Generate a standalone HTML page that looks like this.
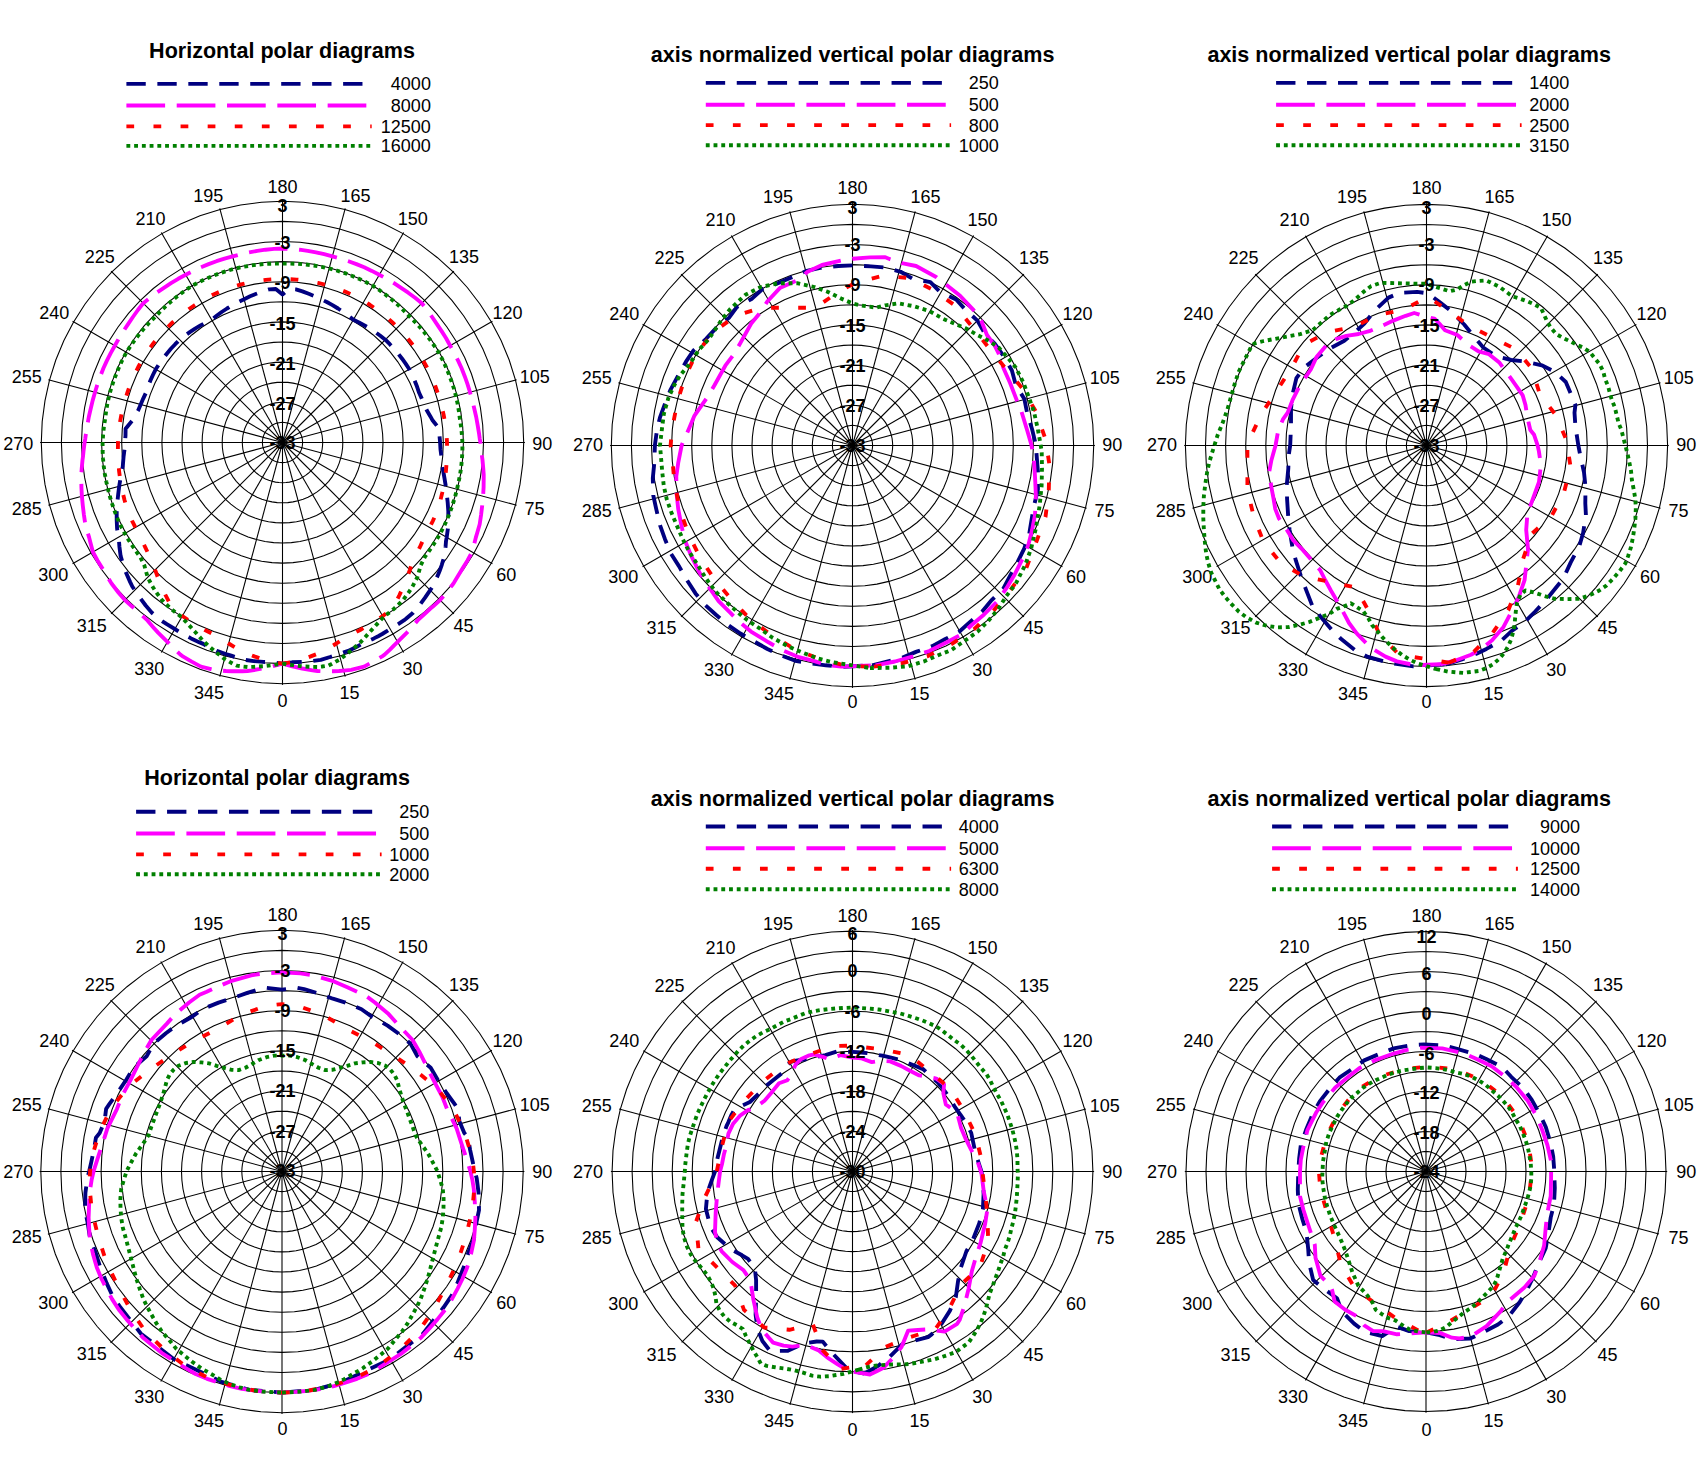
<!DOCTYPE html>
<html><head><meta charset="utf-8"><title>Polar diagrams</title>
<style>
html,body{margin:0;padding:0;background:#fff}
svg{display:block}
text{font-family:"Liberation Sans",Arial,sans-serif;fill:#000}
.al text,.lt{font-size:18.00px}
.rl text{font-size:18.00px;font-weight:bold}
.tt{font-size:21.55px;font-weight:bold}
</style></head><body>
<svg width="1703" height="1460" viewBox="0 0 1703 1460">
<rect width="1703" height="1460" fill="#fff"/>
<g fill="none" stroke="#000" stroke-width="1.08"><polygon points="282.5,683.7 303.5,682.8 324.4,680.0 344.9,675.5 365.0,669.2 384.4,661.1 403.1,651.4 420.8,640.1 437.5,627.3 453.1,613.1 467.3,597.5 480.1,580.8 491.4,563.1 501.1,544.4 509.2,525.0 515.5,504.9 520.0,484.4 522.8,463.5 523.7,442.5 522.8,421.5 520.0,400.6 515.5,380.1 509.2,360.0 501.1,340.6 491.4,321.9 480.1,304.2 467.3,287.5 453.1,271.9 437.5,257.7 420.8,244.9 403.1,233.6 384.4,223.9 365.0,215.8 344.9,209.5 324.4,205.0 303.5,202.2 282.5,201.3 261.5,202.2 240.6,205.0 220.1,209.5 200.0,215.8 180.6,223.9 161.9,233.6 144.2,244.9 127.5,257.7 111.9,271.9 97.7,287.5 84.9,304.2 73.6,321.9 63.9,340.6 55.8,360.0 49.5,380.1 45.0,400.6 42.2,421.5 41.3,442.5 42.2,463.5 45.0,484.4 49.5,504.9 55.8,525.0 63.9,544.4 73.6,563.1 84.9,580.8 97.7,597.5 111.9,613.1 127.5,627.3 144.2,640.1 161.9,651.4 180.6,661.1 200.0,669.2 220.1,675.5 240.6,680.0 261.5,682.8"/><polygon points="282.5,663.6 301.8,662.8 320.9,660.2 339.7,656.1 358.1,650.3 375.9,642.9 393.0,634.0 409.3,623.6 424.6,611.9 438.8,598.8 451.9,584.6 463.6,569.3 474.0,553.1 482.9,535.9 490.3,518.1 496.1,499.7 500.2,480.9 502.8,461.8 503.6,442.5 502.8,423.2 500.2,404.1 496.1,385.3 490.3,366.9 482.9,349.1 474.0,332.0 463.6,315.7 451.9,300.4 438.8,286.2 424.6,273.1 409.3,261.4 393.0,251.0 375.9,242.1 358.1,234.7 339.7,228.9 320.9,224.8 301.8,222.2 282.5,221.4 263.2,222.2 244.1,224.8 225.3,228.9 206.9,234.7 189.1,242.1 171.9,251.0 155.7,261.4 140.4,273.1 126.2,286.2 113.1,300.4 101.4,315.7 91.0,331.9 82.1,349.1 74.7,366.9 68.9,385.3 64.8,404.1 62.2,423.2 61.4,442.5 62.2,461.8 64.8,480.9 68.9,499.7 74.7,518.1 82.1,535.9 91.0,553.1 101.4,569.3 113.1,584.6 126.2,598.8 140.4,611.9 155.7,623.6 171.9,634.0 189.1,642.9 206.9,650.3 225.3,656.1 244.1,660.2 263.2,662.8"/><polygon points="282.5,643.5 300.0,642.7 317.4,640.4 334.5,636.7 351.2,631.4 367.4,624.7 383.0,616.6 397.8,607.1 411.7,596.5 424.6,584.6 436.5,571.7 447.1,557.8 456.6,543.0 464.7,527.4 471.4,511.2 476.7,494.5 480.4,477.4 482.7,460.0 483.5,442.5 482.7,425.0 480.4,407.6 476.7,390.5 471.4,373.8 464.7,357.6 456.6,342.0 447.1,327.2 436.5,313.3 424.6,300.4 411.7,288.5 397.8,277.9 383.0,268.4 367.4,260.3 351.2,253.6 334.5,248.3 317.4,244.6 300.0,242.3 282.5,241.5 265.0,242.3 247.6,244.6 230.5,248.3 213.8,253.6 197.6,260.3 182.0,268.4 167.2,277.9 153.3,288.5 140.4,300.4 128.5,313.3 117.9,327.2 108.4,342.0 100.3,357.6 93.6,373.8 88.3,390.5 84.6,407.6 82.3,425.0 81.5,442.5 82.3,460.0 84.6,477.4 88.3,494.5 93.6,511.2 100.3,527.4 108.4,543.0 117.9,557.8 128.5,571.7 140.4,584.6 153.3,596.5 167.2,607.1 182.0,616.6 197.6,624.7 213.8,631.4 230.5,636.7 247.6,640.4 265.0,642.7"/><polygon points="282.5,623.4 298.3,622.7 313.9,620.7 329.3,617.2 344.4,612.5 359.0,606.5 372.9,599.2 386.3,590.7 398.8,581.1 410.4,570.4 421.1,558.8 430.7,546.3 439.2,533.0 446.5,519.0 452.5,504.4 457.2,489.3 460.7,473.9 462.7,458.3 463.4,442.5 462.7,426.7 460.7,411.1 457.2,395.7 452.5,380.6 446.5,366.0 439.2,352.1 430.7,338.7 421.1,326.2 410.4,314.6 398.8,303.9 386.3,294.3 372.9,285.8 359.0,278.5 344.4,272.5 329.3,267.8 313.9,264.3 298.3,262.3 282.5,261.6 266.7,262.3 251.1,264.3 235.7,267.8 220.6,272.5 206.0,278.5 192.1,285.8 178.7,294.3 166.2,303.9 154.6,314.6 143.9,326.2 134.3,338.7 125.8,352.0 118.5,366.0 112.5,380.6 107.8,395.7 104.3,411.1 102.3,426.7 101.6,442.5 102.3,458.3 104.3,473.9 107.8,489.3 112.5,504.4 118.5,519.0 125.8,533.0 134.3,546.3 143.9,558.8 154.6,570.4 166.2,581.1 178.7,590.7 192.0,599.2 206.0,606.5 220.6,612.5 235.7,617.2 251.1,620.7 266.7,622.7"/><polygon points="282.5,603.3 296.5,602.7 310.4,600.9 324.1,597.8 337.5,593.6 350.5,588.2 362.9,581.8 374.7,574.2 385.9,565.7 396.2,556.2 405.7,545.9 414.2,534.7 421.8,522.9 428.2,510.5 433.6,497.5 437.8,484.1 440.9,470.4 442.7,456.5 443.3,442.5 442.7,428.5 440.9,414.6 437.8,400.9 433.6,387.5 428.2,374.5 421.8,362.1 414.2,350.3 405.7,339.1 396.2,328.8 385.9,319.3 374.7,310.8 362.9,303.2 350.5,296.8 337.5,291.4 324.1,287.2 310.4,284.1 296.5,282.3 282.5,281.7 268.5,282.3 254.6,284.1 240.9,287.2 227.5,291.4 214.5,296.8 202.1,303.2 190.3,310.8 179.1,319.3 168.8,328.8 159.3,339.1 150.8,350.3 143.2,362.1 136.8,374.5 131.4,387.5 127.2,400.9 124.1,414.6 122.3,428.5 121.7,442.5 122.3,456.5 124.1,470.4 127.2,484.1 131.4,497.5 136.8,510.5 143.2,522.9 150.8,534.7 159.3,545.9 168.8,556.2 179.1,565.7 190.3,574.2 202.1,581.8 214.5,588.2 227.5,593.6 240.9,597.8 254.6,600.9 268.5,602.7"/><polygon points="282.5,583.2 294.8,582.7 306.9,581.1 318.9,578.4 330.6,574.7 342.0,570.0 352.8,564.3 363.2,557.8 372.9,550.3 382.0,542.0 390.3,532.9 397.8,523.2 404.3,512.9 410.0,502.0 414.7,490.6 418.4,478.9 421.1,466.9 422.7,454.8 423.2,442.5 422.7,430.2 421.1,418.1 418.4,406.1 414.7,394.4 410.0,383.0 404.3,372.2 397.8,361.8 390.3,352.1 382.0,343.0 372.9,334.7 363.2,327.2 352.8,320.7 342.0,315.0 330.6,310.3 318.9,306.6 306.9,303.9 294.8,302.3 282.5,301.8 270.2,302.3 258.1,303.9 246.1,306.6 234.4,310.3 223.0,315.0 212.1,320.7 201.8,327.2 192.1,334.7 183.0,343.0 174.7,352.1 167.2,361.8 160.7,372.1 155.0,383.0 150.3,394.4 146.6,406.1 143.9,418.1 142.3,430.2 141.8,442.5 142.3,454.8 143.9,466.9 146.6,478.9 150.3,490.6 155.0,502.0 160.7,512.9 167.2,523.2 174.7,532.9 183.0,542.0 192.1,550.3 201.8,557.8 212.1,564.3 223.0,570.0 234.4,574.7 246.1,578.4 258.1,581.1 270.2,582.7"/><polygon points="282.5,563.1 293.0,562.6 303.4,561.3 313.7,559.0 323.7,555.8 333.5,551.8 342.8,546.9 351.7,541.3 360.0,534.9 367.8,527.8 374.9,520.0 381.3,511.7 386.9,502.8 391.8,493.5 395.8,483.7 399.0,473.7 401.3,463.4 402.6,453.0 403.1,442.5 402.6,432.0 401.3,421.6 399.0,411.3 395.8,401.3 391.8,391.5 386.9,382.2 381.3,373.3 374.9,365.0 367.8,357.2 360.0,350.1 351.7,343.7 342.8,338.1 333.5,333.2 323.7,329.2 313.7,326.0 303.4,323.7 293.0,322.4 282.5,321.9 272.0,322.4 261.6,323.7 251.3,326.0 241.3,329.2 231.5,333.2 222.2,338.1 213.3,343.7 205.0,350.1 197.2,357.2 190.1,365.0 183.7,373.3 178.1,382.2 173.2,391.5 169.2,401.3 166.0,411.3 163.7,421.6 162.4,432.0 161.9,442.5 162.4,453.0 163.7,463.4 166.0,473.7 169.2,483.7 173.2,493.5 178.1,502.8 183.7,511.7 190.1,520.0 197.2,527.8 205.0,534.9 213.3,541.3 222.2,546.9 231.5,551.8 241.3,555.8 251.3,559.0 261.6,561.3 272.0,562.6"/><polygon points="282.5,543.0 291.3,542.6 300.0,541.5 308.5,539.6 316.9,536.9 325.0,533.6 332.8,529.5 340.1,524.8 347.1,519.5 353.6,513.6 359.5,507.1 364.8,500.1 369.5,492.8 373.6,485.0 376.9,476.9 379.6,468.5 381.5,460.0 382.6,451.3 383.0,442.5 382.6,433.7 381.5,425.0 379.6,416.5 376.9,408.1 373.6,400.0 369.5,392.2 364.8,384.9 359.5,377.9 353.6,371.4 347.1,365.5 340.1,360.2 332.8,355.5 325.0,351.4 316.9,348.1 308.5,345.4 300.0,343.5 291.3,342.4 282.5,342.0 273.7,342.4 265.0,343.5 256.5,345.4 248.1,348.1 240.0,351.4 232.2,355.5 224.9,360.2 217.9,365.5 211.4,371.4 205.5,377.9 200.2,384.9 195.5,392.2 191.4,400.0 188.1,408.1 185.4,416.5 183.5,425.0 182.4,433.7 182.0,442.5 182.4,451.3 183.5,460.0 185.4,468.5 188.1,476.9 191.4,485.0 195.5,492.8 200.2,500.1 205.5,507.1 211.4,513.6 217.9,519.5 224.9,524.8 232.2,529.5 240.0,533.6 248.1,536.9 256.5,539.6 265.0,541.5 273.7,542.6"/><polygon points="282.5,522.9 289.5,522.6 296.5,521.7 303.3,520.2 310.0,518.1 316.5,515.4 322.7,512.1 328.6,508.4 334.2,504.1 339.4,499.4 344.1,494.2 348.4,488.6 352.1,482.7 355.4,476.5 358.1,470.0 360.2,463.3 361.7,456.5 362.6,449.5 362.9,442.5 362.6,435.5 361.7,428.5 360.2,421.7 358.1,415.0 355.4,408.5 352.1,402.3 348.4,396.4 344.1,390.8 339.4,385.6 334.2,380.9 328.6,376.6 322.7,372.9 316.5,369.6 310.0,366.9 303.3,364.8 296.5,363.3 289.5,362.4 282.5,362.1 275.5,362.4 268.5,363.3 261.7,364.8 255.0,366.9 248.5,369.6 242.3,372.9 236.4,376.6 230.8,380.9 225.6,385.6 220.9,390.8 216.6,396.4 212.9,402.3 209.6,408.5 206.9,415.0 204.8,421.7 203.3,428.5 202.4,435.5 202.1,442.5 202.4,449.5 203.3,456.5 204.8,463.3 206.9,470.0 209.6,476.5 212.9,482.7 216.6,488.6 220.9,494.2 225.6,499.4 230.8,504.1 236.4,508.4 242.3,512.1 248.5,515.4 255.0,518.1 261.7,520.2 268.5,521.7 275.5,522.6"/><polygon points="282.5,502.8 287.8,502.6 293.0,501.9 298.1,500.7 303.1,499.2 308.0,497.2 312.6,494.7 317.1,491.9 321.3,488.7 325.1,485.1 328.7,481.3 331.9,477.1 334.7,472.6 337.2,468.0 339.2,463.1 340.7,458.1 341.9,453.0 342.6,447.8 342.8,442.5 342.6,437.2 341.9,432.0 340.7,426.9 339.2,421.9 337.2,417.0 334.7,412.4 331.9,407.9 328.7,403.7 325.1,399.9 321.3,396.3 317.1,393.1 312.6,390.3 308.0,387.8 303.1,385.8 298.1,384.3 293.0,383.1 287.8,382.4 282.5,382.2 277.2,382.4 272.0,383.1 266.9,384.3 261.9,385.8 257.0,387.8 252.3,390.3 247.9,393.1 243.7,396.3 239.9,399.9 236.3,403.7 233.1,407.9 230.3,412.3 227.8,417.0 225.8,421.9 224.3,426.9 223.1,432.0 222.4,437.2 222.2,442.5 222.4,447.8 223.1,453.0 224.3,458.1 225.8,463.1 227.8,468.0 230.3,472.6 233.1,477.1 236.3,481.3 239.9,485.1 243.7,488.7 247.9,491.9 252.3,494.7 257.0,497.2 261.9,499.2 266.9,500.7 272.0,501.9 277.2,502.6"/><polygon points="282.5,482.7 286.0,482.5 289.5,482.1 292.9,481.3 296.2,480.3 299.5,478.9 302.6,477.3 305.6,475.4 308.3,473.3 310.9,470.9 313.3,468.3 315.4,465.6 317.3,462.6 318.9,459.5 320.3,456.2 321.3,452.9 322.1,449.5 322.5,446.0 322.7,442.5 322.5,439.0 322.1,435.5 321.3,432.1 320.3,428.8 318.9,425.5 317.3,422.4 315.4,419.4 313.3,416.7 310.9,414.1 308.3,411.7 305.6,409.6 302.6,407.7 299.5,406.1 296.2,404.7 292.9,403.7 289.5,402.9 286.0,402.5 282.5,402.3 279.0,402.5 275.5,402.9 272.1,403.7 268.8,404.7 265.5,406.1 262.4,407.7 259.4,409.6 256.7,411.7 254.1,414.1 251.7,416.7 249.6,419.4 247.7,422.4 246.1,425.5 244.7,428.8 243.7,432.1 242.9,435.5 242.5,439.0 242.3,442.5 242.5,446.0 242.9,449.5 243.7,452.9 244.7,456.2 246.1,459.5 247.7,462.6 249.6,465.6 251.7,468.3 254.1,470.9 256.7,473.3 259.4,475.4 262.4,477.3 265.5,478.9 268.8,480.3 272.1,481.3 275.5,482.1 279.0,482.5"/><polygon points="282.5,462.6 284.3,462.5 286.0,462.3 287.7,461.9 289.4,461.4 291.0,460.7 292.6,459.9 294.0,459.0 295.4,457.9 296.7,456.7 297.9,455.4 299.0,454.0 299.9,452.6 300.7,451.0 301.4,449.4 301.9,447.7 302.3,446.0 302.5,444.3 302.6,442.5 302.5,440.7 302.3,439.0 301.9,437.3 301.4,435.6 300.7,434.0 299.9,432.4 299.0,431.0 297.9,429.6 296.7,428.3 295.4,427.1 294.0,426.0 292.6,425.1 291.0,424.3 289.4,423.6 287.7,423.1 286.0,422.7 284.3,422.5 282.5,422.4 280.7,422.5 279.0,422.7 277.3,423.1 275.6,423.6 274.0,424.3 272.4,425.1 271.0,426.0 269.6,427.1 268.3,428.3 267.1,429.6 266.0,431.0 265.1,432.4 264.3,434.0 263.6,435.6 263.1,437.3 262.7,439.0 262.5,440.7 262.4,442.5 262.5,444.3 262.7,446.0 263.1,447.7 263.6,449.4 264.3,451.0 265.1,452.6 266.0,454.0 267.1,455.4 268.3,456.7 269.6,457.9 271.0,459.0 272.4,459.9 274.0,460.7 275.6,461.4 277.3,461.9 279.0,462.3 280.7,462.5"/><line x1="282.50" y1="442.50" x2="282.50" y2="684.90"/><line x1="282.50" y1="442.50" x2="345.24" y2="676.64"/><line x1="282.50" y1="442.50" x2="403.70" y2="652.42"/><line x1="282.50" y1="442.50" x2="453.90" y2="613.90"/><line x1="282.50" y1="442.50" x2="492.42" y2="563.70"/><line x1="282.50" y1="442.50" x2="516.64" y2="505.24"/><line x1="282.50" y1="442.50" x2="524.90" y2="442.50"/><line x1="282.50" y1="442.50" x2="516.64" y2="379.76"/><line x1="282.50" y1="442.50" x2="492.42" y2="321.30"/><line x1="282.50" y1="442.50" x2="453.90" y2="271.10"/><line x1="282.50" y1="442.50" x2="403.70" y2="232.58"/><line x1="282.50" y1="442.50" x2="345.24" y2="208.36"/><line x1="282.50" y1="442.50" x2="282.50" y2="200.10"/><line x1="282.50" y1="442.50" x2="219.76" y2="208.36"/><line x1="282.50" y1="442.50" x2="161.30" y2="232.58"/><line x1="282.50" y1="442.50" x2="111.10" y2="271.10"/><line x1="282.50" y1="442.50" x2="72.58" y2="321.30"/><line x1="282.50" y1="442.50" x2="48.36" y2="379.76"/><line x1="282.50" y1="442.50" x2="40.10" y2="442.50"/><line x1="282.50" y1="442.50" x2="48.36" y2="505.24"/><line x1="282.50" y1="442.50" x2="72.58" y2="563.70"/><line x1="282.50" y1="442.50" x2="111.10" y2="613.90"/><line x1="282.50" y1="442.50" x2="161.30" y2="652.42"/><line x1="282.50" y1="442.50" x2="219.76" y2="676.64"/></g>
<g class="al"><text x="282.5" y="193.2" text-anchor="middle">180</text><text x="282.5" y="707.2" text-anchor="middle">0</text><text x="340.5" y="201.5" text-anchor="start">165</text><text x="397.7" y="224.9" text-anchor="start">150</text><text x="449.1" y="262.9" text-anchor="start">135</text><text x="492.6" y="318.5" text-anchor="start">120</text><text x="519.8" y="382.8" text-anchor="start">105</text><text x="532.3" y="449.6" text-anchor="start">90</text><text x="524.6" y="515.4" text-anchor="start">75</text><text x="496.2" y="581.3" text-anchor="start">60</text><text x="453.6" y="632.4" text-anchor="start">45</text><text x="402.4" y="674.6" text-anchor="start">30</text><text x="339.6" y="698.6" text-anchor="start">15</text><text x="223.2" y="201.5" text-anchor="end">195</text><text x="165.6" y="224.9" text-anchor="end">210</text><text x="114.7" y="262.9" text-anchor="end">225</text><text x="69.3" y="318.5" text-anchor="end">240</text><text x="41.9" y="382.8" text-anchor="end">255</text><text x="33.2" y="449.6" text-anchor="end">270</text><text x="41.9" y="515.4" text-anchor="end">285</text><text x="68.3" y="581.3" text-anchor="end">300</text><text x="106.7" y="632.4" text-anchor="end">315</text><text x="164.2" y="674.6" text-anchor="end">330</text><text x="224.1" y="698.6" text-anchor="end">345</text></g>
<polyline points="282.5,663.6 292.1,662.3 301.7,661.9 311.3,661.1 320.8,659.8 330.0,657.0 333.7,655.7 339.2,654.0 348.2,650.9 356.8,646.7 361.8,643.9 365.3,642.4 373.9,638.4 378.2,636.2 382.2,634.0 390.2,629.0 398.2,624.2 404.2,620.2 406.0,618.8 413.1,612.7 419.3,605.5 424.9,597.9 430.2,590.2 432.7,586.5 434.8,582.1 438.6,573.5 439.6,571.1 441.8,564.8 444.4,555.9 445.6,546.4 446.0,541.1 446.7,537.3 447.9,528.6 448.3,519.8 448.3,511.2 447.7,502.6 446.8,494.3 445.8,486.3 444.5,478.4 443.2,470.8 442.2,466.4 442.0,463.5 441.4,456.4 440.5,449.4 440.1,442.5 439.5,435.6 439.4,428.8 434.3,422.5 432.7,420.6 430.4,416.4 426.9,410.5 424.3,404.5 421.8,398.6 419.1,392.8 417.1,386.8 414.7,380.8 412.1,375.0 409.3,369.3 405.8,363.9 402.1,358.7 398.2,353.7 394.1,348.8 389.8,344.2 385.3,339.7 380.3,335.8 375.2,332.1 369.9,328.6 364.5,325.4 359.0,322.5 353.4,319.8 348.4,315.8 343.3,312.0 338.0,308.5 332.5,305.1 326.8,302.0 320.9,299.2 314.9,296.3 308.7,293.8 302.4,291.4 295.9,289.4 289.2,289.0 282.5,294.4 275.8,289.0 269.1,289.4 262.6,291.4 256.3,293.8 250.1,296.3 244.1,299.2 238.2,302.0 232.5,305.1 227.0,308.5 221.7,312.0 216.6,315.8 211.6,319.8 206.0,322.5 200.5,325.4 195.1,328.6 189.8,332.1 184.7,335.8 179.7,339.7 175.2,344.2 170.9,348.8 166.8,353.7 162.9,358.7 159.2,363.9 155.7,369.3 152.9,375.0 150.3,380.8 147.9,386.8 145.9,392.8 143.2,398.6 140.7,404.5 138.1,410.5 134.6,416.4 132.3,420.6 130.7,422.5 125.6,428.8 125.5,435.6 124.9,442.5 124.5,449.4 123.6,456.4 123.0,463.5 122.8,466.4 121.8,470.8 120.5,478.4 119.2,486.3 118.2,494.3 117.3,502.6 116.7,511.2 116.7,519.8 117.1,528.6 118.3,537.3 119.0,541.1 119.4,546.4 120.6,555.9 123.2,564.8 125.4,571.1 126.4,573.5 130.2,582.1 132.3,586.5 134.8,590.2 140.1,597.9 145.7,605.5 151.9,612.7 159.0,618.8 160.8,620.2 166.8,624.2 174.8,629.0 182.8,634.0 186.8,636.2 191.1,638.4 199.7,642.4 203.2,643.9 208.2,646.7 216.8,650.9 225.8,654.0 231.3,655.7 235.0,657.0 244.2,659.8 253.7,661.1 263.3,661.9 272.9,662.3 282.5,663.6" fill="none" stroke="#000080" stroke-width="3.87" stroke-dasharray="19.35 11.61" stroke-linejoin="round"/>
<polyline points="282.5,663.6 292.3,666.3 302.3,668.5 312.5,670.3 317.5,671.0 322.8,671.2 333.2,671.2 339.0,671.0 343.6,670.6 351.1,669.9 354.0,669.2 364.1,666.6 373.3,661.6 382.2,656.3 384.6,654.7 390.2,649.4 394.6,644.8 397.6,641.9 404.9,634.6 406.9,632.6 411.8,627.2 418.4,619.6 425.6,613.0 429.9,609.1 432.9,606.6 440.1,600.1 446.4,592.7 452.3,585.0 453.9,582.8 457.5,576.8 462.5,568.5 467.5,560.4 472.1,552.0 474.6,542.5 475.8,537.6 477.1,533.3 479.7,524.2 481.1,514.8 482.2,505.5 483.1,496.3 483.6,487.1 483.7,478.0 483.7,474.4 483.3,468.9 482.5,460.0 482.0,456.5 481.5,451.2 480.4,442.5 479.8,439.1 479.1,433.9 477.7,425.4 476.2,417.0 474.3,408.7 472.3,400.4 470.0,392.3 469.0,389.0 467.5,384.2 464.7,376.2 461.6,368.3 458.1,360.6 454.3,353.1 450.2,345.7 446.1,338.3 441.6,331.1 436.9,324.1 432.1,317.0 427.1,310.0 421.8,303.2 415.1,297.8 408.2,292.7 401.1,287.9 394.0,283.2 386.8,278.8 379.3,274.8 371.8,270.9 364.2,267.3 356.4,264.1 348.5,261.2 340.5,258.6 332.4,256.4 324.2,254.2 316.0,252.4 307.7,250.9 299.4,249.7 291.0,248.9 282.5,248.5 274.0,248.9 265.6,249.7 257.3,250.9 249.0,252.4 240.8,254.2 232.6,256.4 224.5,258.6 216.5,261.2 208.6,264.1 200.8,267.3 193.2,270.9 185.7,274.8 178.2,278.8 171.0,283.2 163.9,287.9 156.8,292.7 149.9,297.8 143.2,303.2 137.9,310.0 132.9,317.0 128.1,324.1 123.4,331.1 118.9,338.3 114.8,345.7 110.7,353.1 106.9,360.6 103.4,368.3 100.3,376.2 97.5,384.2 96.0,389.0 95.0,392.3 92.7,400.4 90.7,408.7 88.8,417.0 87.3,425.4 85.9,433.9 85.2,439.1 84.6,442.5 83.5,451.2 83.0,456.5 82.5,460.0 81.7,468.9 81.3,474.4 81.3,478.0 81.4,487.1 81.9,496.3 82.8,505.5 83.9,514.8 85.3,524.2 87.9,533.3 89.2,537.6 90.4,542.5 92.9,552.0 97.5,560.4 102.5,568.5 107.5,576.8 111.1,582.8 112.7,585.0 118.6,592.7 124.9,600.1 132.1,606.6 135.1,609.1 139.4,613.0 146.6,619.6 153.2,627.2 158.1,632.6 160.1,634.6 167.4,641.9 170.4,644.8 174.8,649.4 180.4,654.7 182.8,656.3 191.7,661.6 200.9,666.6 211.0,669.2 213.9,669.9 221.4,670.6 226.0,671.0 231.8,671.2 242.2,671.2 247.5,671.0 252.5,670.3 262.7,668.5 272.7,666.3 282.5,663.6" fill="none" stroke="#ff00ff" stroke-width="3.87" stroke-dasharray="38.70 11.61" stroke-linejoin="round"/>
<polyline points="282.5,663.6 292.1,662.0 296.6,661.1 301.5,659.6 310.7,656.4 319.6,652.9 323.1,651.3 328.2,648.5 336.4,643.5 344.2,638.3 352.2,634.1 360.1,630.0 367.8,625.5 369.6,624.4 375.4,620.9 382.7,616.0 389.7,610.8 392.2,608.9 395.2,603.5 399.5,595.0 403.3,586.5 406.8,578.2 409.9,569.9 412.5,561.6 416.2,554.6 419.6,547.7 422.8,540.7 424.7,535.9 426.0,533.9 429.6,527.4 432.9,520.8 435.9,514.0 436.7,512.1 438.4,507.1 440.5,500.0 442.2,492.9 443.6,485.7 444.9,478.5 445.9,471.3 446.5,464.1 446.8,459.8 446.9,456.9 447.1,449.7 447.0,442.5 446.6,435.3 446.3,431.9 445.9,428.2 444.8,421.1 443.5,414.1 441.8,407.2 440.0,400.3 437.9,393.5 435.6,386.8 432.9,380.2 430.1,373.7 426.9,367.3 423.5,361.1 419.8,355.0 415.9,349.1 411.7,343.4 407.2,337.8 402.5,332.5 397.6,327.4 392.5,322.4 387.2,317.7 381.7,313.2 376.0,309.0 370.1,305.0 364.1,301.2 357.9,297.7 351.5,294.5 345.0,291.6 338.4,289.0 331.6,286.6 324.8,284.6 317.9,282.9 310.9,281.5 303.8,280.4 296.7,279.6 289.6,279.2 282.5,279.0 275.4,279.2 268.3,279.6 261.2,280.4 254.1,281.5 247.1,282.9 240.2,284.6 233.4,286.6 226.6,289.0 220.0,291.6 213.5,294.5 207.1,297.7 200.9,301.2 194.9,305.0 189.0,309.0 183.3,313.2 177.8,317.7 172.5,322.4 167.4,327.4 162.5,332.5 157.8,337.8 153.3,343.4 149.1,349.1 145.2,355.0 141.5,361.1 138.1,367.3 134.9,373.7 132.1,380.2 129.4,386.8 127.1,393.5 125.0,400.3 123.2,407.2 121.5,414.1 120.2,421.1 119.1,428.2 118.7,431.9 118.4,435.3 118.0,442.5 117.9,449.7 118.1,456.9 118.2,459.8 118.5,464.1 119.1,471.3 120.1,478.5 121.4,485.7 122.8,492.9 124.5,500.0 126.6,507.1 128.3,512.1 129.1,514.0 132.1,520.8 135.4,527.4 139.0,533.9 140.3,535.9 142.2,540.7 145.4,547.7 148.8,554.6 152.5,561.6 155.1,569.9 158.2,578.2 161.7,586.5 165.5,595.0 169.8,603.5 172.8,608.9 175.3,610.8 182.3,616.0 189.6,620.9 195.4,624.4 197.2,625.5 204.9,630.0 212.8,634.1 220.8,638.3 228.6,643.5 236.8,648.5 241.9,651.3 245.4,652.9 254.3,656.4 263.5,659.6 268.4,661.1 272.9,662.0 282.5,663.6" fill="none" stroke="#ff0000" stroke-width="3.87" stroke-dasharray="7.74 19.35" stroke-linejoin="round"/>
<polyline points="282.5,663.6 292.2,665.2 302.1,666.3 312.0,666.9 317.2,667.0 322.0,666.5 328.3,665.6 331.6,664.0 340.5,659.0 348.7,652.5 356.5,645.8 361.0,641.7 363.8,638.7 370.5,631.2 377.0,624.1 383.3,617.2 390.3,611.8 393.1,609.6 397.0,606.0 403.2,599.8 408.5,592.7 412.0,587.3 413.2,585.2 417.3,577.3 419.9,568.4 420.6,565.5 423.1,560.5 425.0,556.7 427.3,553.6 431.8,547.0 436.1,540.4 440.2,533.5 443.9,526.5 447.2,519.3 450.1,511.9 452.7,504.4 455.0,496.9 457.0,489.3 458.7,481.6 460.2,473.8 461.3,466.0 462.0,458.2 462.4,450.4 462.4,442.5 461.9,434.7 461.1,426.9 459.9,419.1 458.9,411.4 457.6,403.7 455.9,396.0 453.9,388.5 451.4,381.0 448.7,373.7 445.6,366.4 442.3,359.3 438.6,352.4 434.3,345.8 429.8,339.4 425.0,333.2 419.9,327.2 414.6,321.5 409.0,316.0 403.6,310.4 397.9,304.9 392.0,299.8 385.9,294.9 379.5,290.2 372.9,285.8 366.0,282.1 358.9,278.7 351.6,275.7 344.2,272.9 336.7,270.5 329.1,268.4 321.5,266.8 313.7,265.5 305.9,264.5 298.1,263.8 290.3,263.6 282.5,263.6 274.7,263.6 266.9,263.8 259.1,264.5 251.3,265.5 243.5,266.8 235.9,268.4 228.3,270.5 220.8,272.9 213.4,275.7 206.1,278.7 199.0,282.1 192.1,285.8 185.5,290.2 179.1,294.9 173.0,299.8 167.1,304.9 161.4,310.4 156.0,316.0 150.4,321.5 145.1,327.2 140.0,333.2 135.2,339.4 130.7,345.8 126.4,352.4 122.7,359.3 119.4,366.4 116.3,373.7 113.6,381.0 111.1,388.5 109.1,396.0 107.4,403.7 106.1,411.4 105.1,419.1 103.9,426.9 103.1,434.7 102.6,442.5 102.6,450.4 103.0,458.2 103.7,466.0 104.8,473.8 106.3,481.6 108.0,489.3 110.0,496.9 112.3,504.4 114.9,511.9 117.8,519.3 121.1,526.5 124.8,533.5 128.9,540.4 133.2,547.0 137.7,553.6 140.0,556.7 141.9,560.5 144.4,565.5 145.1,568.4 147.7,577.3 151.8,585.2 153.0,587.3 156.5,592.7 161.8,599.8 168.0,606.0 171.9,609.6 174.7,611.8 181.7,617.2 188.0,624.1 194.5,631.2 201.2,638.7 204.0,641.7 208.5,645.8 216.3,652.5 224.5,659.0 233.4,664.0 236.7,665.6 243.0,666.5 247.8,667.0 253.0,666.9 262.9,666.3 272.8,665.2 282.5,663.6" fill="none" stroke="#008000" stroke-width="3.87" stroke-dasharray="3.87 3.87" stroke-linejoin="round"/>
<g class="rl"><text x="282.5" y="211.7" text-anchor="middle">3</text><text x="282.5" y="248.9" text-anchor="middle">-3</text><text x="282.5" y="289.2" text-anchor="middle">-9</text><text x="282.5" y="329.5" text-anchor="middle">-15</text><text x="282.5" y="369.7" text-anchor="middle">-21</text><text x="282.5" y="410.0" text-anchor="middle">-27</text><text x="282.5" y="448.9" text-anchor="middle">-33</text></g>
<text class="tt" x="282.0" y="57.9" text-anchor="middle">Horizontal polar diagrams</text>
<line x1="126.4" y1="83.9" x2="371.7" y2="83.9" stroke="#000080" stroke-width="3.87" stroke-dasharray="19.35 11.61"/><text class="lt" x="430.9" y="90.3" text-anchor="end">4000</text><line x1="126.4" y1="105.5" x2="371.7" y2="105.5" stroke="#ff00ff" stroke-width="3.87" stroke-dasharray="38.70 11.61"/><text class="lt" x="430.9" y="111.9" text-anchor="end">8000</text><line x1="126.4" y1="126.4" x2="371.7" y2="126.4" stroke="#ff0000" stroke-width="3.87" stroke-dasharray="7.74 19.35"/><text class="lt" x="430.9" y="132.8" text-anchor="end">12500</text><line x1="126.4" y1="145.9" x2="371.7" y2="145.9" stroke="#008000" stroke-width="3.87" stroke-dasharray="3.87 3.87"/><text class="lt" x="430.9" y="152.3" text-anchor="end">16000</text>
<g fill="none" stroke="#000" stroke-width="1.08"><polygon points="852.5,686.7 873.5,685.8 894.4,683.0 914.9,678.5 935.0,672.2 954.4,664.1 973.1,654.4 990.8,643.1 1007.5,630.3 1023.1,616.1 1037.3,600.5 1050.1,583.8 1061.4,566.1 1071.1,547.4 1079.2,528.0 1085.5,507.9 1090.0,487.4 1092.8,466.5 1093.7,445.5 1092.8,424.5 1090.0,403.6 1085.5,383.1 1079.2,363.0 1071.1,343.6 1061.4,324.9 1050.1,307.2 1037.3,290.5 1023.1,274.9 1007.5,260.7 990.8,247.9 973.1,236.6 954.4,226.9 935.0,218.8 914.9,212.5 894.4,208.0 873.5,205.2 852.5,204.3 831.5,205.2 810.6,208.0 790.1,212.5 770.0,218.8 750.6,226.9 731.9,236.6 714.2,247.9 697.5,260.7 681.9,274.9 667.7,290.5 654.9,307.2 643.6,324.9 633.9,343.6 625.8,363.0 619.5,383.1 615.0,403.6 612.2,424.5 611.3,445.5 612.2,466.5 615.0,487.4 619.5,507.9 625.8,528.0 633.9,547.4 643.6,566.1 654.9,583.8 667.7,600.5 681.9,616.1 697.5,630.3 714.2,643.1 731.9,654.4 750.6,664.1 770.0,672.2 790.1,678.5 810.6,683.0 831.5,685.8"/><polygon points="852.5,666.6 871.8,665.8 890.9,663.2 909.7,659.1 928.1,653.3 945.9,645.9 963.0,637.0 979.3,626.6 994.6,614.9 1008.8,601.8 1021.9,587.6 1033.6,572.3 1044.0,556.1 1052.9,538.9 1060.3,521.1 1066.1,502.7 1070.2,483.9 1072.8,464.8 1073.6,445.5 1072.8,426.2 1070.2,407.1 1066.1,388.3 1060.3,369.9 1052.9,352.1 1044.0,335.0 1033.6,318.7 1021.9,303.4 1008.8,289.2 994.6,276.1 979.3,264.4 963.0,254.0 945.9,245.1 928.1,237.7 909.7,231.9 890.9,227.8 871.8,225.2 852.5,224.4 833.2,225.2 814.1,227.8 795.3,231.9 776.9,237.7 759.1,245.1 741.9,254.0 725.7,264.4 710.4,276.1 696.2,289.2 683.1,303.4 671.4,318.7 661.0,334.9 652.1,352.1 644.7,369.9 638.9,388.3 634.8,407.1 632.2,426.2 631.4,445.5 632.2,464.8 634.8,483.9 638.9,502.7 644.7,521.1 652.1,538.9 661.0,556.1 671.4,572.3 683.1,587.6 696.2,601.8 710.4,614.9 725.7,626.6 741.9,637.0 759.1,645.9 776.9,653.3 795.3,659.1 814.1,663.2 833.2,665.8"/><polygon points="852.5,646.5 870.0,645.7 887.4,643.4 904.5,639.7 921.2,634.4 937.4,627.7 953.0,619.6 967.8,610.1 981.7,599.5 994.6,587.6 1006.5,574.7 1017.1,560.8 1026.6,546.0 1034.7,530.4 1041.4,514.2 1046.7,497.5 1050.4,480.4 1052.7,463.0 1053.5,445.5 1052.7,428.0 1050.4,410.6 1046.7,393.5 1041.4,376.8 1034.7,360.6 1026.6,345.0 1017.1,330.2 1006.5,316.3 994.6,303.4 981.7,291.5 967.8,280.9 953.0,271.4 937.4,263.3 921.2,256.6 904.5,251.3 887.4,247.6 870.0,245.3 852.5,244.5 835.0,245.3 817.6,247.6 800.5,251.3 783.8,256.6 767.6,263.3 752.0,271.4 737.2,280.9 723.3,291.5 710.4,303.4 698.5,316.3 687.9,330.2 678.4,345.0 670.3,360.6 663.6,376.8 658.3,393.5 654.6,410.6 652.3,428.0 651.5,445.5 652.3,463.0 654.6,480.4 658.3,497.5 663.6,514.2 670.3,530.4 678.4,546.0 687.9,560.8 698.5,574.7 710.4,587.6 723.3,599.5 737.2,610.1 752.0,619.6 767.6,627.7 783.8,634.4 800.5,639.7 817.6,643.4 835.0,645.7"/><polygon points="852.5,626.4 868.3,625.7 883.9,623.7 899.3,620.2 914.4,615.5 929.0,609.5 942.9,602.2 956.3,593.7 968.8,584.1 980.4,573.4 991.1,561.8 1000.7,549.3 1009.2,536.0 1016.5,522.0 1022.5,507.4 1027.2,492.3 1030.7,476.9 1032.7,461.3 1033.4,445.5 1032.7,429.7 1030.7,414.1 1027.2,398.7 1022.5,383.6 1016.5,369.0 1009.2,355.1 1000.7,341.7 991.1,329.2 980.4,317.6 968.8,306.9 956.3,297.3 942.9,288.8 929.0,281.5 914.4,275.5 899.3,270.8 883.9,267.3 868.3,265.3 852.5,264.6 836.7,265.3 821.1,267.3 805.7,270.8 790.6,275.5 776.0,281.5 762.0,288.8 748.7,297.3 736.2,306.9 724.6,317.6 713.9,329.2 704.3,341.7 695.8,355.0 688.5,369.0 682.5,383.6 677.8,398.7 674.3,414.1 672.3,429.7 671.6,445.5 672.3,461.3 674.3,476.9 677.8,492.3 682.5,507.4 688.5,522.0 695.8,536.0 704.3,549.3 713.9,561.8 724.6,573.4 736.2,584.1 748.7,593.7 762.0,602.2 776.0,609.5 790.6,615.5 805.7,620.2 821.1,623.7 836.7,625.7"/><polygon points="852.5,606.3 866.5,605.7 880.4,603.9 894.1,600.8 907.5,596.6 920.5,591.2 932.9,584.8 944.7,577.2 955.9,568.7 966.2,559.2 975.7,548.9 984.2,537.7 991.8,525.9 998.2,513.5 1003.6,500.5 1007.8,487.1 1010.9,473.4 1012.7,459.5 1013.3,445.5 1012.7,431.5 1010.9,417.6 1007.8,403.9 1003.6,390.5 998.2,377.5 991.8,365.1 984.2,353.3 975.7,342.1 966.2,331.8 955.9,322.3 944.7,313.8 932.9,306.2 920.5,299.8 907.5,294.4 894.1,290.2 880.4,287.1 866.5,285.3 852.5,284.7 838.5,285.3 824.6,287.1 810.9,290.2 797.5,294.4 784.5,299.8 772.1,306.2 760.3,313.8 749.1,322.3 738.8,331.8 729.3,342.1 720.8,353.3 713.2,365.1 706.8,377.5 701.4,390.5 697.2,403.9 694.1,417.6 692.3,431.5 691.7,445.5 692.3,459.5 694.1,473.4 697.2,487.1 701.4,500.5 706.8,513.5 713.2,525.9 720.8,537.7 729.3,548.9 738.8,559.2 749.1,568.7 760.3,577.2 772.1,584.8 784.5,591.2 797.5,596.6 810.9,600.8 824.6,603.9 838.5,605.7"/><polygon points="852.5,586.2 864.8,585.7 876.9,584.1 888.9,581.4 900.6,577.7 912.0,573.0 922.9,567.3 933.2,560.8 942.9,553.3 952.0,545.0 960.3,535.9 967.8,526.2 974.3,515.9 980.0,505.0 984.7,493.6 988.4,481.9 991.1,469.9 992.7,457.8 993.2,445.5 992.7,433.2 991.1,421.1 988.4,409.1 984.7,397.4 980.0,386.0 974.3,375.2 967.8,364.8 960.3,355.1 952.0,346.0 942.9,337.7 933.2,330.2 922.9,323.7 912.0,318.0 900.6,313.3 888.9,309.6 876.9,306.9 864.8,305.3 852.5,304.8 840.2,305.3 828.1,306.9 816.1,309.6 804.4,313.3 793.0,318.0 782.1,323.7 771.8,330.2 762.1,337.7 753.0,346.0 744.7,355.1 737.2,364.8 730.7,375.1 725.0,386.0 720.3,397.4 716.6,409.1 713.9,421.1 712.3,433.2 711.8,445.5 712.3,457.8 713.9,469.9 716.6,481.9 720.3,493.6 725.0,505.0 730.7,515.9 737.2,526.2 744.7,535.9 753.0,545.0 762.1,553.3 771.8,560.8 782.1,567.3 793.0,573.0 804.4,577.7 816.1,581.4 828.1,584.1 840.2,585.7"/><polygon points="852.5,566.1 863.0,565.6 873.4,564.3 883.7,562.0 893.7,558.8 903.5,554.8 912.8,549.9 921.7,544.3 930.0,537.9 937.8,530.8 944.9,523.0 951.3,514.7 956.9,505.8 961.8,496.5 965.8,486.7 969.0,476.7 971.3,466.4 972.6,456.0 973.1,445.5 972.6,435.0 971.3,424.6 969.0,414.3 965.8,404.3 961.8,394.5 956.9,385.2 951.3,376.3 944.9,368.0 937.8,360.2 930.0,353.1 921.7,346.7 912.8,341.1 903.5,336.2 893.7,332.2 883.7,329.0 873.4,326.7 863.0,325.4 852.5,324.9 842.0,325.4 831.6,326.7 821.3,329.0 811.3,332.2 801.5,336.2 792.2,341.1 783.3,346.7 775.0,353.1 767.2,360.2 760.1,368.0 753.7,376.3 748.1,385.2 743.2,394.5 739.2,404.3 736.0,414.3 733.7,424.6 732.4,435.0 731.9,445.5 732.4,456.0 733.7,466.4 736.0,476.7 739.2,486.7 743.2,496.5 748.1,505.8 753.7,514.7 760.1,523.0 767.2,530.8 775.0,537.9 783.3,544.3 792.2,549.9 801.5,554.8 811.3,558.8 821.3,562.0 831.6,564.3 842.0,565.6"/><polygon points="852.5,546.0 861.3,545.6 870.0,544.5 878.5,542.6 886.9,539.9 895.0,536.6 902.8,532.5 910.1,527.8 917.1,522.5 923.6,516.6 929.5,510.1 934.8,503.1 939.5,495.8 943.6,488.0 946.9,479.9 949.6,471.5 951.5,463.0 952.6,454.3 953.0,445.5 952.6,436.7 951.5,428.0 949.6,419.5 946.9,411.1 943.6,403.0 939.5,395.2 934.8,387.9 929.5,380.9 923.6,374.4 917.1,368.5 910.1,363.2 902.8,358.5 895.0,354.4 886.9,351.1 878.5,348.4 870.0,346.5 861.3,345.4 852.5,345.0 843.7,345.4 835.0,346.5 826.5,348.4 818.1,351.1 810.0,354.4 802.2,358.5 794.9,363.2 787.9,368.5 781.4,374.4 775.5,380.9 770.2,387.9 765.5,395.2 761.4,403.0 758.1,411.1 755.4,419.5 753.5,428.0 752.4,436.7 752.0,445.5 752.4,454.3 753.5,463.0 755.4,471.5 758.1,479.9 761.4,488.0 765.5,495.8 770.2,503.1 775.5,510.1 781.4,516.6 787.9,522.5 794.9,527.8 802.2,532.5 810.0,536.6 818.1,539.9 826.5,542.6 835.0,544.5 843.7,545.6"/><polygon points="852.5,525.9 859.5,525.6 866.5,524.7 873.3,523.2 880.0,521.1 886.5,518.4 892.7,515.1 898.6,511.4 904.2,507.1 909.4,502.4 914.1,497.2 918.4,491.6 922.1,485.7 925.4,479.5 928.1,473.0 930.2,466.3 931.7,459.5 932.6,452.5 932.9,445.5 932.6,438.5 931.7,431.5 930.2,424.7 928.1,418.0 925.4,411.5 922.1,405.3 918.4,399.4 914.1,393.8 909.4,388.6 904.2,383.9 898.6,379.6 892.7,375.9 886.5,372.6 880.0,369.9 873.3,367.8 866.5,366.3 859.5,365.4 852.5,365.1 845.5,365.4 838.5,366.3 831.7,367.8 825.0,369.9 818.5,372.6 812.3,375.9 806.4,379.6 800.8,383.9 795.6,388.6 790.9,393.8 786.6,399.4 782.9,405.3 779.6,411.5 776.9,418.0 774.8,424.7 773.3,431.5 772.4,438.5 772.1,445.5 772.4,452.5 773.3,459.5 774.8,466.3 776.9,473.0 779.6,479.5 782.9,485.7 786.6,491.6 790.9,497.2 795.6,502.4 800.8,507.1 806.4,511.4 812.3,515.1 818.5,518.4 825.0,521.1 831.7,523.2 838.5,524.7 845.5,525.6"/><polygon points="852.5,505.8 857.8,505.6 863.0,504.9 868.1,503.7 873.1,502.2 878.0,500.2 882.6,497.7 887.1,494.9 891.3,491.7 895.1,488.1 898.7,484.3 901.9,480.1 904.7,475.6 907.2,471.0 909.2,466.1 910.7,461.1 911.9,456.0 912.6,450.8 912.8,445.5 912.6,440.2 911.9,435.0 910.7,429.9 909.2,424.9 907.2,420.0 904.7,415.4 901.9,410.9 898.7,406.7 895.1,402.9 891.3,399.3 887.1,396.1 882.6,393.3 878.0,390.8 873.1,388.8 868.1,387.3 863.0,386.1 857.8,385.4 852.5,385.2 847.2,385.4 842.0,386.1 836.9,387.3 831.9,388.8 827.0,390.8 822.4,393.3 817.9,396.1 813.7,399.3 809.9,402.9 806.3,406.7 803.1,410.9 800.3,415.3 797.8,420.0 795.8,424.9 794.3,429.9 793.1,435.0 792.4,440.2 792.2,445.5 792.4,450.8 793.1,456.0 794.3,461.1 795.8,466.1 797.8,471.0 800.3,475.6 803.1,480.1 806.3,484.3 809.9,488.1 813.7,491.7 817.9,494.9 822.4,497.7 827.0,500.2 831.9,502.2 836.9,503.7 842.0,504.9 847.2,505.6"/><polygon points="852.5,485.7 856.0,485.5 859.5,485.1 862.9,484.3 866.2,483.3 869.5,481.9 872.6,480.3 875.6,478.4 878.3,476.3 880.9,473.9 883.3,471.3 885.4,468.6 887.3,465.6 888.9,462.5 890.3,459.2 891.3,455.9 892.1,452.5 892.5,449.0 892.7,445.5 892.5,442.0 892.1,438.5 891.3,435.1 890.3,431.8 888.9,428.5 887.3,425.4 885.4,422.4 883.3,419.7 880.9,417.1 878.3,414.7 875.6,412.6 872.6,410.7 869.5,409.1 866.2,407.7 862.9,406.7 859.5,405.9 856.0,405.5 852.5,405.3 849.0,405.5 845.5,405.9 842.1,406.7 838.8,407.7 835.5,409.1 832.4,410.7 829.4,412.6 826.7,414.7 824.1,417.1 821.7,419.7 819.6,422.4 817.7,425.4 816.1,428.5 814.7,431.8 813.7,435.1 812.9,438.5 812.5,442.0 812.3,445.5 812.5,449.0 812.9,452.5 813.7,455.9 814.7,459.2 816.1,462.5 817.7,465.6 819.6,468.6 821.7,471.3 824.1,473.9 826.7,476.3 829.4,478.4 832.4,480.3 835.5,481.9 838.8,483.3 842.1,484.3 845.5,485.1 849.0,485.5"/><polygon points="852.5,465.6 854.3,465.5 856.0,465.3 857.7,464.9 859.4,464.4 861.0,463.7 862.5,462.9 864.0,462.0 865.4,460.9 866.7,459.7 867.9,458.4 869.0,457.0 869.9,455.6 870.7,454.0 871.4,452.4 871.9,450.7 872.3,449.0 872.5,447.3 872.6,445.5 872.5,443.7 872.3,442.0 871.9,440.3 871.4,438.6 870.7,437.0 869.9,435.4 869.0,434.0 867.9,432.6 866.7,431.3 865.4,430.1 864.0,429.0 862.5,428.1 861.0,427.3 859.4,426.6 857.7,426.1 856.0,425.7 854.3,425.5 852.5,425.4 850.7,425.5 849.0,425.7 847.3,426.1 845.6,426.6 844.0,427.3 842.5,428.1 841.0,429.0 839.6,430.1 838.3,431.3 837.1,432.6 836.0,434.0 835.1,435.4 834.3,437.0 833.6,438.6 833.1,440.3 832.7,442.0 832.5,443.7 832.4,445.5 832.5,447.3 832.7,449.0 833.1,450.7 833.6,452.4 834.3,454.0 835.1,455.6 836.0,457.0 837.1,458.4 838.3,459.7 839.6,460.9 841.0,462.0 842.4,462.9 844.0,463.7 845.6,464.4 847.3,464.9 849.0,465.3 850.7,465.5"/><line x1="852.50" y1="445.50" x2="852.50" y2="687.90"/><line x1="852.50" y1="445.50" x2="915.24" y2="679.64"/><line x1="852.50" y1="445.50" x2="973.70" y2="655.42"/><line x1="852.50" y1="445.50" x2="1023.90" y2="616.90"/><line x1="852.50" y1="445.50" x2="1062.42" y2="566.70"/><line x1="852.50" y1="445.50" x2="1086.64" y2="508.24"/><line x1="852.50" y1="445.50" x2="1094.90" y2="445.50"/><line x1="852.50" y1="445.50" x2="1086.64" y2="382.76"/><line x1="852.50" y1="445.50" x2="1062.42" y2="324.30"/><line x1="852.50" y1="445.50" x2="1023.90" y2="274.10"/><line x1="852.50" y1="445.50" x2="973.70" y2="235.58"/><line x1="852.50" y1="445.50" x2="915.24" y2="211.36"/><line x1="852.50" y1="445.50" x2="852.50" y2="203.10"/><line x1="852.50" y1="445.50" x2="789.76" y2="211.36"/><line x1="852.50" y1="445.50" x2="731.30" y2="235.58"/><line x1="852.50" y1="445.50" x2="681.10" y2="274.10"/><line x1="852.50" y1="445.50" x2="642.58" y2="324.30"/><line x1="852.50" y1="445.50" x2="618.36" y2="382.76"/><line x1="852.50" y1="445.50" x2="610.10" y2="445.50"/><line x1="852.50" y1="445.50" x2="618.36" y2="508.24"/><line x1="852.50" y1="445.50" x2="642.58" y2="566.70"/><line x1="852.50" y1="445.50" x2="681.10" y2="616.90"/><line x1="852.50" y1="445.50" x2="731.30" y2="655.42"/><line x1="852.50" y1="445.50" x2="789.76" y2="679.64"/></g>
<g class="al"><text x="852.4" y="194.4" text-anchor="middle">180</text><text x="852.4" y="708.4" text-anchor="middle">0</text><text x="910.4" y="202.7" text-anchor="start">165</text><text x="967.6" y="226.1" text-anchor="start">150</text><text x="1019.0" y="264.1" text-anchor="start">135</text><text x="1062.5" y="319.7" text-anchor="start">120</text><text x="1089.7" y="384.0" text-anchor="start">105</text><text x="1102.2" y="450.8" text-anchor="start">90</text><text x="1094.5" y="516.6" text-anchor="start">75</text><text x="1066.1" y="582.5" text-anchor="start">60</text><text x="1023.5" y="633.6" text-anchor="start">45</text><text x="972.3" y="675.8" text-anchor="start">30</text><text x="909.5" y="699.8" text-anchor="start">15</text><text x="793.1" y="202.7" text-anchor="end">195</text><text x="735.5" y="226.1" text-anchor="end">210</text><text x="684.6" y="264.1" text-anchor="end">225</text><text x="639.2" y="319.7" text-anchor="end">240</text><text x="611.8" y="384.0" text-anchor="end">255</text><text x="603.1" y="450.8" text-anchor="end">270</text><text x="611.8" y="516.6" text-anchor="end">285</text><text x="638.2" y="582.5" text-anchor="end">300</text><text x="676.6" y="633.6" text-anchor="end">315</text><text x="734.1" y="675.8" text-anchor="end">330</text><text x="794.0" y="699.8" text-anchor="end">345</text></g>
<polyline points="872.1,665.3 902.6,657.6 916.0,651.9 932.3,646.1 944.9,639.3 959.2,631.7 969.8,622.1 982.2,611.5 991.7,600.1 1003.3,588.6 1009.9,576.2 1017.8,561.7 1024.3,548.3 1029.2,534.0 1032.1,516.6 1034.6,503.3 1037.9,489.7 1038.2,474.6 1036.9,459.0 1035.9,445.2 1032.1,429.2 1027.3,413.7 1024.4,399.1 1015.7,384.8 1011.9,370.5 1004.3,357.1 994.7,343.7 985.2,334.2 977.4,320.6 964.9,309.1 956.2,299.5 940.1,291.9 930.4,282.2 912.3,278.5 900.7,271.8 883.6,267.4 871.0,266.4 852.5,265.4 838.4,266.0 820.2,267.9 806.7,270.8 791.4,277.5 777.9,283.3 762.5,289.0 752.0,298.7 736.8,307.1 729.1,317.7 718.6,325.4 706.1,338.8 693.6,350.4 686.0,361.7 678.2,375.4 670.6,389.6 665.8,401.4 660.0,417.4 657.1,429.1 654.9,445.2 654.3,462.8 652.8,478.2 653.3,495.5 656.2,508.9 660.0,525.2 664.8,538.7 670.6,553.1 679.1,566.4 686.9,580.0 695.5,593.4 705.0,604.8 716.5,615.3 728.2,625.1 740.4,633.5 754.0,641.3 767.4,649.0 781.8,655.7 795.2,660.8 810.6,663.3 825.9,665.3 841.3,666.8 872.1,665.3" fill="none" stroke="#000080" stroke-width="3.87" stroke-dasharray="19.35 11.61" stroke-linejoin="round"/>
<polyline points="875.6,665.3 894.9,661.5 912.2,656.6 929.3,651.0 946.8,642.2 961.2,634.6 971.7,625.0 984.1,614.5 996.5,602.1 1006.3,588.4 1013.8,576.1 1022.5,558.8 1028.3,545.3 1032.1,530.0 1035.0,514.8 1035.9,495.7 1035.0,476.4 1034.0,461.1 1031.5,445.2 1027.3,430.8 1021.5,411.7 1016.8,400.3 1010.0,382.8 1003.3,367.7 998.5,353.2 994.7,345.6 987.0,335.0 981.3,320.7 973.6,310.1 960.1,295.7 946.6,285.1 936.1,277.0 916.1,266.0 901.7,263.1 890.1,259.2 885.3,257.3 870.0,257.4 852.5,258.7 843.1,260.2 822.0,265.0 807.6,271.8 797.2,280.3 779.8,288.1 767.3,301.5 760.7,312.0 751.2,323.5 740.6,342.6 733.9,354.2 725.3,365.7 714.6,385.0 708.0,396.3 694.5,415.6 689.7,427.0 681.7,445.2 678.2,462.9 676.3,476.3 676.4,491.7 678.2,508.9 681.6,526.3 685.0,540.7 691.7,556.9 699.3,572.2 707.9,585.6 718.6,601.1 729.9,612.4 739.6,622.1 751.0,631.6 768.5,642.3 781.7,649.9 797.1,656.6 815.2,661.4 826.0,664.7 841.3,666.6 875.6,665.3" fill="none" stroke="#ff00ff" stroke-width="3.87" stroke-dasharray="38.70 11.61" stroke-linejoin="round"/>
<polyline points="873.8,666.6 901.6,663.3 927.5,656.3 951.5,644.1 974.7,628.7 993.6,610.7 1010.1,590.4 1026.3,568.1 1035.9,543.0 1045.5,516.9 1048.8,490.1 1049.4,464.5 1045.5,439.1 1036.0,411.8 1022.5,388.6 1005.2,368.0 988.5,347.4 971.6,326.0 954.7,305.3 932.4,289.4 908.3,277.9 882.4,275.9 854.8,283.2 838.5,291.8 815.3,307.8 788.6,307.8 760.7,307.8 735.8,315.8 714.7,331.1 696.4,353.2 685.0,377.1 677.3,402.1 672.1,429.1 670.6,445.2 672.1,455.6 674.4,482.4 679.6,508.4 688.2,533.6 700.2,557.8 715.0,580.2 732.8,600.9 751.2,620.3 772.2,635.5 796.2,649.9 821.3,659.5 847.9,666.2 873.8,666.6" fill="none" stroke="#ff0000" stroke-width="3.87" stroke-dasharray="7.74 19.35" stroke-linejoin="round"/>
<polyline points="870.0,668.1 891.3,667.7 908.3,666.2 923.9,661.4 937.0,655.7 951.4,650.0 964.1,641.2 977.6,631.6 987.9,621.3 998.4,608.7 1006.3,596.1 1015.7,583.9 1025.3,564.7 1031.2,548.2 1035.9,528.3 1039.7,505.2 1041.6,486.0 1042.0,468.8 1041.7,451.4 1040.7,445.2 1037.8,429.0 1034.0,411.9 1029.2,398.2 1023.5,382.9 1015.8,367.6 1008.2,358.2 998.5,347.4 988.9,340.8 977.4,335.0 966.0,328.4 956.3,324.4 942.9,318.7 929.5,311.1 914.2,306.3 898.7,303.3 885.4,305.3 875.8,307.6 860.3,305.3 852.5,303.4 841.2,298.6 827.9,291.9 814.5,287.1 797.2,283.2 777.9,283.3 760.7,287.1 745.4,294.8 730.1,309.1 720.5,321.5 708.9,338.9 699.3,349.4 689.8,363.7 680.2,375.2 674.4,384.9 668.6,397.3 663.9,413.6 661.9,429.2 660.0,445.2 661.0,457.2 662.3,472.6 663.8,485.9 666.8,499.5 671.5,512.8 676.3,524.3 682.1,537.7 688.7,551.0 697.4,564.5 705.0,576.9 714.5,590.4 725.2,601.0 735.7,610.5 747.2,620.1 758.8,627.8 772.2,637.5 787.7,646.1 802.7,652.7 818.4,658.6 833.5,662.4 870.0,668.1" fill="none" stroke="#008000" stroke-width="3.87" stroke-dasharray="3.87 3.87" stroke-linejoin="round"/>
<g class="rl"><text x="852.4" y="214.0" text-anchor="middle">3</text><text x="852.4" y="251.1" text-anchor="middle">-3</text><text x="852.4" y="291.2" text-anchor="middle">-9</text><text x="852.4" y="331.7" text-anchor="middle">-15</text><text x="852.4" y="371.8" text-anchor="middle">-21</text><text x="852.4" y="412.0" text-anchor="middle">-27</text><text x="852.4" y="451.8" text-anchor="middle">-33</text></g>
<text class="tt" x="852.6" y="62.2" text-anchor="middle">axis normalized vertical polar diagrams</text>
<line x1="705.8" y1="82.9" x2="951.1" y2="82.9" stroke="#000080" stroke-width="3.87" stroke-dasharray="19.35 11.61"/><text class="lt" x="998.7" y="89.3" text-anchor="end">250</text><line x1="705.8" y1="104.8" x2="951.1" y2="104.8" stroke="#ff00ff" stroke-width="3.87" stroke-dasharray="38.70 11.61"/><text class="lt" x="998.7" y="111.2" text-anchor="end">500</text><line x1="705.8" y1="125.1" x2="951.1" y2="125.1" stroke="#ff0000" stroke-width="3.87" stroke-dasharray="7.74 19.35"/><text class="lt" x="998.7" y="131.5" text-anchor="end">800</text><line x1="705.8" y1="145.2" x2="951.1" y2="145.2" stroke="#008000" stroke-width="3.87" stroke-dasharray="3.87 3.87"/><text class="lt" x="998.7" y="151.6" text-anchor="end">1000</text>
<g fill="none" stroke="#000" stroke-width="1.08"><polygon points="1426.5,686.6 1447.5,685.7 1468.4,682.9 1488.9,678.4 1509.0,672.1 1528.4,664.0 1547.0,654.3 1564.8,643.0 1581.5,630.2 1597.0,616.0 1611.2,600.5 1624.0,583.8 1635.3,566.1 1645.0,547.4 1653.1,528.0 1659.4,507.9 1663.9,487.4 1666.7,466.5 1667.6,445.5 1666.7,424.5 1663.9,403.6 1659.4,383.1 1653.1,363.0 1645.0,343.6 1635.3,325.0 1624.0,307.2 1611.2,290.5 1597.0,275.0 1581.5,260.8 1564.8,248.0 1547.0,236.7 1528.4,227.0 1509.0,218.9 1488.9,212.6 1468.4,208.1 1447.5,205.3 1426.5,204.4 1405.5,205.3 1384.6,208.1 1364.1,212.6 1344.0,218.9 1324.6,227.0 1306.0,236.7 1288.2,248.0 1271.5,260.8 1256.0,275.0 1241.8,290.5 1229.0,307.2 1217.7,324.9 1208.0,343.6 1199.9,363.0 1193.6,383.1 1189.1,403.6 1186.3,424.5 1185.4,445.5 1186.3,466.5 1189.1,487.4 1193.6,507.9 1199.9,528.0 1208.0,547.4 1217.7,566.1 1229.0,583.8 1241.8,600.5 1256.0,616.0 1271.5,630.2 1288.2,643.0 1305.9,654.3 1324.6,664.0 1344.0,672.1 1364.1,678.4 1384.6,682.9 1405.5,685.7"/><polygon points="1426.5,666.5 1445.8,665.7 1464.9,663.2 1483.7,659.0 1502.1,653.2 1519.9,645.8 1537.0,636.9 1553.3,626.5 1568.6,614.8 1582.8,601.8 1595.8,587.6 1607.5,572.3 1617.9,556.0 1626.8,538.9 1634.2,521.1 1640.0,502.7 1644.2,483.9 1646.7,464.8 1647.5,445.5 1646.7,426.2 1644.2,407.1 1640.0,388.3 1634.2,369.9 1626.8,352.1 1617.9,335.0 1607.5,318.7 1595.8,303.4 1582.8,289.2 1568.6,276.2 1553.3,264.5 1537.0,254.1 1519.9,245.2 1502.1,237.8 1483.7,232.0 1464.9,227.8 1445.8,225.3 1426.5,224.5 1407.2,225.3 1388.1,227.8 1369.3,232.0 1350.9,237.8 1333.1,245.2 1316.0,254.1 1299.7,264.5 1284.4,276.2 1270.2,289.2 1257.2,303.4 1245.5,318.7 1235.1,335.0 1226.2,352.1 1218.8,369.9 1213.0,388.3 1208.8,407.1 1206.3,426.2 1205.5,445.5 1206.3,464.8 1208.8,483.9 1213.0,502.7 1218.8,521.1 1226.2,538.9 1235.1,556.0 1245.5,572.3 1257.2,587.6 1270.2,601.8 1284.4,614.8 1299.7,626.5 1316.0,636.9 1333.1,645.8 1350.9,653.2 1369.3,659.0 1388.1,663.2 1407.2,665.7"/><polygon points="1426.5,646.4 1444.0,645.7 1461.4,643.4 1478.5,639.6 1495.2,634.3 1511.4,627.6 1527.0,619.5 1541.7,610.1 1555.6,599.4 1568.6,587.6 1580.4,574.6 1591.1,560.7 1600.5,546.0 1608.6,530.4 1615.3,514.2 1620.6,497.5 1624.4,480.4 1626.7,463.0 1627.4,445.5 1626.7,428.0 1624.4,410.6 1620.6,393.5 1615.3,376.8 1608.6,360.6 1600.5,345.0 1591.1,330.3 1580.4,316.4 1568.6,303.4 1555.6,291.6 1541.7,280.9 1527.0,271.5 1511.4,263.4 1495.2,256.7 1478.5,251.4 1461.4,247.6 1444.0,245.3 1426.5,244.6 1409.0,245.3 1391.6,247.6 1374.5,251.4 1357.8,256.7 1341.6,263.4 1326.0,271.5 1311.3,280.9 1297.4,291.6 1284.4,303.4 1272.6,316.4 1261.9,330.3 1252.5,345.0 1244.4,360.6 1237.7,376.8 1232.4,393.5 1228.6,410.6 1226.3,428.0 1225.6,445.5 1226.3,463.0 1228.6,480.4 1232.4,497.5 1237.7,514.2 1244.4,530.4 1252.5,546.0 1261.9,560.7 1272.6,574.6 1284.4,587.6 1297.4,599.4 1311.3,610.1 1326.0,619.5 1341.6,627.6 1357.8,634.3 1374.5,639.6 1391.6,643.4 1409.0,645.7"/><polygon points="1426.5,626.3 1442.3,625.6 1457.9,623.6 1473.3,620.2 1488.3,615.4 1502.9,609.4 1516.9,602.1 1530.2,593.6 1542.7,584.0 1554.4,573.4 1565.0,561.7 1574.6,549.2 1583.1,535.9 1590.4,521.9 1596.4,507.3 1601.2,492.3 1604.6,476.9 1606.6,461.3 1607.3,445.5 1606.6,429.7 1604.6,414.1 1601.2,398.7 1596.4,383.7 1590.4,369.1 1583.1,355.1 1574.6,341.8 1565.0,329.3 1554.4,317.6 1542.7,307.0 1530.2,297.4 1516.9,288.9 1502.9,281.6 1488.3,275.6 1473.3,270.8 1457.9,267.4 1442.3,265.4 1426.5,264.7 1410.7,265.4 1395.1,267.4 1379.7,270.8 1364.7,275.6 1350.1,281.6 1336.1,288.9 1322.8,297.4 1310.3,307.0 1298.6,317.6 1288.0,329.3 1278.4,341.8 1269.9,355.1 1262.6,369.1 1256.6,383.7 1251.8,398.7 1248.4,414.1 1246.4,429.7 1245.7,445.5 1246.4,461.3 1248.4,476.9 1251.8,492.3 1256.6,507.3 1262.6,521.9 1269.9,535.9 1278.4,549.2 1288.0,561.7 1298.6,573.4 1310.3,584.0 1322.8,593.6 1336.1,602.1 1350.1,609.4 1364.7,615.4 1379.7,620.2 1395.1,623.6 1410.7,625.6"/><polygon points="1426.5,606.2 1440.5,605.6 1454.4,603.8 1468.1,600.8 1481.5,596.5 1494.4,591.2 1506.9,584.7 1518.7,577.2 1529.8,568.6 1540.2,559.2 1549.6,548.8 1558.2,537.7 1565.7,525.9 1572.2,513.4 1577.5,500.5 1581.8,487.1 1584.8,473.4 1586.6,459.5 1587.2,445.5 1586.6,431.5 1584.8,417.6 1581.8,403.9 1577.5,390.5 1572.2,377.6 1565.7,365.1 1558.2,353.3 1549.6,342.2 1540.2,331.8 1529.8,322.4 1518.7,313.8 1506.9,306.3 1494.4,299.8 1481.5,294.5 1468.1,290.2 1454.4,287.2 1440.5,285.4 1426.5,284.8 1412.5,285.4 1398.6,287.2 1384.9,290.2 1371.5,294.5 1358.6,299.8 1346.1,306.3 1334.3,313.8 1323.2,322.4 1312.8,331.8 1303.4,342.2 1294.8,353.3 1287.3,365.1 1280.8,377.6 1275.5,390.5 1271.2,403.9 1268.2,417.6 1266.4,431.5 1265.8,445.5 1266.4,459.5 1268.2,473.4 1271.2,487.1 1275.5,500.5 1280.8,513.4 1287.3,525.9 1294.8,537.7 1303.4,548.8 1312.8,559.2 1323.2,568.6 1334.3,577.2 1346.1,584.7 1358.6,591.2 1371.5,596.5 1384.9,600.8 1398.6,603.8 1412.5,605.6"/><polygon points="1426.5,586.1 1438.8,585.6 1450.9,584.0 1462.9,581.3 1474.6,577.7 1485.9,573.0 1496.8,567.3 1507.2,560.7 1516.9,553.2 1525.9,544.9 1534.2,535.9 1541.7,526.2 1548.3,515.8 1554.0,504.9 1558.7,493.6 1562.3,481.9 1565.0,469.9 1566.6,457.8 1567.1,445.5 1566.6,433.2 1565.0,421.1 1562.3,409.1 1558.7,397.4 1554.0,386.1 1548.3,375.2 1541.7,364.8 1534.2,355.1 1525.9,346.1 1516.9,337.8 1507.2,330.3 1496.8,323.7 1485.9,318.0 1474.6,313.3 1462.9,309.7 1450.9,307.0 1438.8,305.4 1426.5,304.9 1414.2,305.4 1402.1,307.0 1390.1,309.7 1378.4,313.3 1367.1,318.0 1356.2,323.7 1345.8,330.3 1336.1,337.8 1327.1,346.1 1318.8,355.1 1311.3,364.8 1304.7,375.2 1299.0,386.1 1294.3,397.4 1290.7,409.1 1288.0,421.1 1286.4,433.2 1285.9,445.5 1286.4,457.8 1288.0,469.9 1290.7,481.9 1294.3,493.6 1299.0,504.9 1304.7,515.8 1311.3,526.2 1318.8,535.9 1327.1,544.9 1336.1,553.2 1345.8,560.7 1356.2,567.3 1367.1,573.0 1378.4,577.7 1390.1,581.3 1402.1,584.0 1414.2,585.6"/><polygon points="1426.5,566.0 1437.0,565.6 1447.4,564.2 1457.7,561.9 1467.7,558.8 1477.4,554.8 1486.8,549.9 1495.6,544.2 1504.0,537.8 1511.7,530.7 1518.8,523.0 1525.2,514.6 1530.9,505.8 1535.8,496.4 1539.8,486.7 1542.9,476.7 1545.2,466.4 1546.6,456.0 1547.0,445.5 1546.6,435.0 1545.2,424.6 1542.9,414.3 1539.8,404.3 1535.8,394.6 1530.9,385.2 1525.2,376.4 1518.8,368.0 1511.7,360.3 1504.0,353.2 1495.6,346.8 1486.8,341.1 1477.4,336.2 1467.7,332.2 1457.7,329.1 1447.4,326.8 1437.0,325.4 1426.5,324.9 1416.0,325.4 1405.6,326.8 1395.3,329.1 1385.3,332.2 1375.6,336.2 1366.2,341.1 1357.4,346.8 1349.0,353.2 1341.3,360.3 1334.2,368.0 1327.8,376.4 1322.1,385.2 1317.2,394.6 1313.2,404.3 1310.1,414.3 1307.8,424.6 1306.4,435.0 1306.0,445.5 1306.4,456.0 1307.8,466.4 1310.1,476.7 1313.2,486.7 1317.2,496.4 1322.1,505.8 1327.8,514.6 1334.2,523.0 1341.3,530.7 1349.0,537.8 1357.4,544.2 1366.2,549.9 1375.6,554.8 1385.3,558.8 1395.3,561.9 1405.6,564.2 1416.0,565.6"/><polygon points="1426.5,546.0 1435.3,545.6 1443.9,544.4 1452.5,542.5 1460.9,539.9 1469.0,536.5 1476.7,532.5 1484.1,527.8 1491.1,522.5 1497.5,516.5 1503.5,510.1 1508.8,503.1 1513.5,495.7 1517.5,488.0 1520.9,479.9 1523.5,471.5 1525.4,462.9 1526.6,454.3 1527.0,445.5 1526.6,436.7 1525.4,428.1 1523.5,419.5 1520.9,411.1 1517.5,403.0 1513.5,395.3 1508.8,387.9 1503.5,380.9 1497.5,374.5 1491.1,368.5 1484.1,363.2 1476.7,358.5 1469.0,354.5 1460.9,351.1 1452.5,348.5 1443.9,346.6 1435.3,345.4 1426.5,345.0 1417.7,345.4 1409.1,346.6 1400.5,348.5 1392.1,351.1 1384.0,354.5 1376.3,358.5 1368.9,363.2 1361.9,368.5 1355.5,374.5 1349.5,380.9 1344.2,387.9 1339.5,395.3 1335.5,403.0 1332.1,411.1 1329.5,419.5 1327.6,428.1 1326.4,436.7 1326.0,445.5 1326.4,454.3 1327.6,462.9 1329.5,471.5 1332.1,479.9 1335.5,488.0 1339.5,495.7 1344.2,503.1 1349.5,510.1 1355.5,516.5 1361.9,522.5 1368.9,527.8 1376.3,532.5 1384.0,536.5 1392.1,539.9 1400.5,542.5 1409.1,544.4 1417.7,545.6"/><polygon points="1426.5,525.9 1433.5,525.6 1440.5,524.6 1447.3,523.1 1454.0,521.0 1460.5,518.3 1466.7,515.1 1472.6,511.3 1478.2,507.1 1483.3,502.3 1488.1,497.2 1492.3,491.6 1496.1,485.7 1499.3,479.5 1502.0,473.0 1504.1,466.3 1505.6,459.5 1506.6,452.5 1506.9,445.5 1506.6,438.5 1505.6,431.5 1504.1,424.7 1502.0,418.0 1499.3,411.5 1496.1,405.3 1492.3,399.4 1488.1,393.8 1483.3,388.7 1478.2,383.9 1472.6,379.7 1466.7,375.9 1460.5,372.7 1454.0,370.0 1447.3,367.9 1440.5,366.4 1433.5,365.4 1426.5,365.1 1419.5,365.4 1412.5,366.4 1405.7,367.9 1399.0,370.0 1392.5,372.7 1386.3,375.9 1380.4,379.7 1374.8,383.9 1369.7,388.7 1364.9,393.8 1360.7,399.4 1356.9,405.3 1353.7,411.5 1351.0,418.0 1348.9,424.7 1347.4,431.5 1346.4,438.5 1346.1,445.5 1346.4,452.5 1347.4,459.5 1348.9,466.3 1351.0,473.0 1353.7,479.5 1356.9,485.7 1360.7,491.6 1364.9,497.2 1369.7,502.3 1374.8,507.1 1380.4,511.3 1386.3,515.1 1392.5,518.3 1399.0,521.0 1405.7,523.1 1412.5,524.6 1419.5,525.6"/><polygon points="1426.5,505.8 1431.8,505.5 1437.0,504.9 1442.1,503.7 1447.1,502.1 1452.0,500.1 1456.6,497.7 1461.1,494.9 1465.2,491.7 1469.1,488.1 1472.7,484.2 1475.9,480.1 1478.7,475.6 1481.1,471.0 1483.1,466.1 1484.7,461.1 1485.9,456.0 1486.5,450.8 1486.8,445.5 1486.5,440.2 1485.9,435.0 1484.7,429.9 1483.1,424.9 1481.1,420.0 1478.7,415.4 1475.9,410.9 1472.7,406.8 1469.1,402.9 1465.2,399.3 1461.1,396.1 1456.6,393.3 1452.0,390.9 1447.1,388.9 1442.1,387.3 1437.0,386.1 1431.8,385.5 1426.5,385.2 1421.2,385.5 1416.0,386.1 1410.9,387.3 1405.9,388.9 1401.0,390.9 1396.4,393.3 1391.9,396.1 1387.8,399.3 1383.9,402.9 1380.3,406.8 1377.1,410.9 1374.3,415.4 1371.9,420.0 1369.9,424.9 1368.3,429.9 1367.1,435.0 1366.5,440.2 1366.2,445.5 1366.5,450.8 1367.1,456.0 1368.3,461.1 1369.9,466.1 1371.9,471.0 1374.3,475.6 1377.1,480.1 1380.3,484.2 1383.9,488.1 1387.8,491.7 1391.9,494.9 1396.4,497.7 1401.0,500.1 1405.9,502.1 1410.9,503.7 1416.0,504.9 1421.2,505.5"/><polygon points="1426.5,485.7 1430.0,485.5 1433.5,485.1 1436.9,484.3 1440.2,483.3 1443.5,481.9 1446.6,480.3 1449.5,478.4 1452.3,476.3 1454.9,473.9 1457.3,471.3 1459.4,468.5 1461.3,465.6 1462.9,462.5 1464.3,459.2 1465.3,455.9 1466.1,452.5 1466.5,449.0 1466.7,445.5 1466.5,442.0 1466.1,438.5 1465.3,435.1 1464.3,431.8 1462.9,428.5 1461.3,425.4 1459.4,422.5 1457.3,419.7 1454.9,417.1 1452.3,414.7 1449.5,412.6 1446.6,410.7 1443.5,409.1 1440.2,407.7 1436.9,406.7 1433.5,405.9 1430.0,405.5 1426.5,405.3 1423.0,405.5 1419.5,405.9 1416.1,406.7 1412.8,407.7 1409.5,409.1 1406.4,410.7 1403.5,412.6 1400.7,414.7 1398.1,417.1 1395.7,419.7 1393.6,422.5 1391.7,425.4 1390.1,428.5 1388.7,431.8 1387.7,435.1 1386.9,438.5 1386.5,442.0 1386.3,445.5 1386.5,449.0 1386.9,452.5 1387.7,455.9 1388.7,459.2 1390.1,462.5 1391.7,465.6 1393.6,468.5 1395.7,471.3 1398.1,473.9 1400.7,476.3 1403.5,478.4 1406.4,480.3 1409.5,481.9 1412.8,483.3 1416.1,484.3 1419.5,485.1 1423.0,485.5"/><polygon points="1426.5,465.6 1428.3,465.5 1430.0,465.3 1431.7,464.9 1433.4,464.4 1435.0,463.7 1436.5,462.9 1438.0,462.0 1439.4,460.9 1440.7,459.7 1441.9,458.4 1443.0,457.0 1443.9,455.5 1444.7,454.0 1445.4,452.4 1445.9,450.7 1446.3,449.0 1446.5,447.3 1446.6,445.5 1446.5,443.7 1446.3,442.0 1445.9,440.3 1445.4,438.6 1444.7,437.0 1443.9,435.5 1443.0,434.0 1441.9,432.6 1440.7,431.3 1439.4,430.1 1438.0,429.0 1436.5,428.1 1435.0,427.3 1433.4,426.6 1431.7,426.1 1430.0,425.7 1428.3,425.5 1426.5,425.4 1424.7,425.5 1423.0,425.7 1421.3,426.1 1419.6,426.6 1418.0,427.3 1416.5,428.1 1415.0,429.0 1413.6,430.1 1412.3,431.3 1411.1,432.6 1410.0,434.0 1409.1,435.5 1408.3,437.0 1407.6,438.6 1407.1,440.3 1406.7,442.0 1406.5,443.7 1406.4,445.5 1406.5,447.3 1406.7,449.0 1407.1,450.7 1407.6,452.4 1408.3,454.0 1409.1,455.5 1410.0,457.0 1411.1,458.4 1412.3,459.7 1413.6,460.9 1415.0,462.0 1416.5,462.9 1418.0,463.7 1419.6,464.4 1421.3,464.9 1423.0,465.3 1424.7,465.5"/><line x1="1426.50" y1="445.50" x2="1426.50" y2="687.80"/><line x1="1426.50" y1="445.50" x2="1489.21" y2="679.54"/><line x1="1426.50" y1="445.50" x2="1547.65" y2="655.34"/><line x1="1426.50" y1="445.50" x2="1597.83" y2="616.83"/><line x1="1426.50" y1="445.50" x2="1636.34" y2="566.65"/><line x1="1426.50" y1="445.50" x2="1660.54" y2="508.21"/><line x1="1426.50" y1="445.50" x2="1668.80" y2="445.50"/><line x1="1426.50" y1="445.50" x2="1660.54" y2="382.79"/><line x1="1426.50" y1="445.50" x2="1636.34" y2="324.35"/><line x1="1426.50" y1="445.50" x2="1597.83" y2="274.17"/><line x1="1426.50" y1="445.50" x2="1547.65" y2="235.66"/><line x1="1426.50" y1="445.50" x2="1489.21" y2="211.46"/><line x1="1426.50" y1="445.50" x2="1426.50" y2="203.20"/><line x1="1426.50" y1="445.50" x2="1363.79" y2="211.46"/><line x1="1426.50" y1="445.50" x2="1305.35" y2="235.66"/><line x1="1426.50" y1="445.50" x2="1255.17" y2="274.17"/><line x1="1426.50" y1="445.50" x2="1216.66" y2="324.35"/><line x1="1426.50" y1="445.50" x2="1192.46" y2="382.79"/><line x1="1426.50" y1="445.50" x2="1184.20" y2="445.50"/><line x1="1426.50" y1="445.50" x2="1192.46" y2="508.21"/><line x1="1426.50" y1="445.50" x2="1216.66" y2="566.65"/><line x1="1426.50" y1="445.50" x2="1255.17" y2="616.83"/><line x1="1426.50" y1="445.50" x2="1305.35" y2="655.34"/><line x1="1426.50" y1="445.50" x2="1363.79" y2="679.54"/></g>
<g class="al"><text x="1426.4" y="194.4" text-anchor="middle">180</text><text x="1426.4" y="708.4" text-anchor="middle">0</text><text x="1484.4" y="202.7" text-anchor="start">165</text><text x="1541.6" y="226.1" text-anchor="start">150</text><text x="1593.0" y="264.1" text-anchor="start">135</text><text x="1636.5" y="319.7" text-anchor="start">120</text><text x="1663.7" y="384.0" text-anchor="start">105</text><text x="1676.2" y="450.8" text-anchor="start">90</text><text x="1668.5" y="516.6" text-anchor="start">75</text><text x="1640.1" y="582.5" text-anchor="start">60</text><text x="1597.5" y="633.6" text-anchor="start">45</text><text x="1546.3" y="675.8" text-anchor="start">30</text><text x="1483.5" y="699.8" text-anchor="start">15</text><text x="1367.1" y="202.7" text-anchor="end">195</text><text x="1309.5" y="226.1" text-anchor="end">210</text><text x="1258.6" y="264.1" text-anchor="end">225</text><text x="1213.2" y="319.7" text-anchor="end">240</text><text x="1185.8" y="384.0" text-anchor="end">255</text><text x="1177.1" y="450.8" text-anchor="end">270</text><text x="1185.8" y="516.6" text-anchor="end">285</text><text x="1212.2" y="582.5" text-anchor="end">300</text><text x="1250.6" y="633.6" text-anchor="end">315</text><text x="1308.1" y="675.8" text-anchor="end">330</text><text x="1368.0" y="699.8" text-anchor="end">345</text></g>
<polyline points="1446.0,664.3 1461.2,659.6 1476.5,653.8 1486.4,648.9 1501.7,640.3 1512.1,630.7 1525.5,621.2 1535.2,611.5 1547.5,598.2 1555.3,588.5 1562.9,579.0 1565.8,573.2 1570.6,562.6 1579.3,546.3 1583.1,533.0 1585.9,514.8 1585.3,503.3 1585.5,486.9 1584.0,472.4 1580.2,455.2 1578.3,445.2 1575.4,426.2 1574.5,412.7 1575.4,405.0 1571.6,395.5 1565.8,382.0 1554.3,371.4 1541.8,365.3 1525.5,361.5 1511.2,360.0 1495.8,356.1 1483.3,347.5 1472.7,335.0 1464.2,324.5 1449.9,310.1 1441.2,303.4 1432.5,296.7 1426.5,293.2 1417.1,291.9 1399.9,292.8 1388.5,297.6 1375.1,310.1 1364.4,323.5 1354.9,332.2 1344.3,340.7 1329.9,348.5 1316.5,358.0 1304.0,367.7 1296.4,378.1 1292.5,394.6 1291.0,408.9 1291.0,426.2 1290.2,445.3 1288.7,455.4 1288.3,468.6 1286.7,485.8 1287.1,499.3 1288.2,516.6 1289.6,530.0 1292.6,548.3 1295.9,560.7 1301.2,577.1 1306.0,589.6 1312.7,606.8 1320.2,616.3 1331.8,629.8 1340.6,638.5 1354.9,650.0 1367.2,656.6 1383.7,661.4 1396.2,663.9 1413.4,666.3 1446.0,664.3" fill="none" stroke="#000080" stroke-width="3.87" stroke-dasharray="19.35 11.61" stroke-linejoin="round"/>
<polyline points="1440.3,664.3 1455.6,660.5 1471.0,654.7 1481.4,649.0 1492.1,640.3 1503.5,626.9 1512.1,610.6 1518.7,597.2 1524.6,580.0 1526.5,562.6 1528.0,549.2 1526.2,530.0 1527.4,513.8 1532.3,500.3 1539.0,482.0 1540.9,464.8 1538.9,451.4 1537.6,445.3 1534.1,434.8 1530.3,430.0 1527.4,417.5 1525.5,405.1 1522.7,395.4 1516.9,386.8 1507.4,373.5 1499.6,362.8 1489.0,354.2 1478.5,351.3 1468.1,344.6 1457.4,335.0 1445.0,330.2 1439.3,323.5 1434.5,318.7 1426.3,316.8 1414.2,313.0 1405.7,315.8 1393.3,320.6 1380.8,326.4 1369.3,331.2 1358.7,334.0 1346.3,335.9 1336.7,338.8 1326.2,345.5 1316.5,357.1 1310.8,369.5 1300.1,385.0 1292.5,400.2 1287.7,412.7 1282.9,419.4 1278.1,431.0 1275.6,445.2 1271.4,460.2 1269.1,472.4 1271.5,487.9 1273.3,497.4 1275.3,509.1 1279.1,518.7 1285.8,528.1 1293.5,540.7 1303.0,550.2 1313.7,562.7 1320.3,570.3 1325.2,580.0 1330.9,590.5 1340.4,606.7 1349.0,623.0 1356.9,633.7 1371.1,648.0 1385.5,656.6 1396.9,661.4 1415.4,665.3 1440.3,664.3" fill="none" stroke="#ff00ff" stroke-width="3.87" stroke-dasharray="38.70 11.61" stroke-linejoin="round"/>
<polyline points="1448.9,662.7 1473.8,651.9 1492.8,632.7 1508.3,610.2 1518.0,585.3 1523.0,559.2 1531.7,533.8 1551.5,516.2 1563.9,492.6 1570.6,466.8 1567.1,445.3 1566.4,440.1 1556.2,415.5 1539.9,394.5 1531.9,368.6 1515.9,349.3 1492.0,337.3 1468.9,325.8 1450.7,312.4 1427.8,296.7 1403.8,309.7 1377.9,314.9 1353.9,327.0 1327.3,332.2 1304.1,344.6 1291.6,367.9 1276.8,390.7 1261.9,413.2 1250.3,437.5 1247.4,445.2 1247.4,464.0 1247.4,490.2 1253.8,516.7 1263.4,541.6 1280.7,562.8 1303.0,576.1 1329.9,581.9 1355.7,587.5 1368.4,610.6 1379.7,634.6 1399.0,654.7 1448.9,662.7" fill="none" stroke="#ff0000" stroke-width="3.87" stroke-dasharray="7.74 19.35" stroke-linejoin="round"/>
<polyline points="1436.3,669.1 1447.9,671.6 1463.3,672.9 1478.6,671.0 1486.2,668.2 1493.0,664.3 1499.5,658.6 1504.4,652.8 1508.3,646.0 1511.2,639.4 1513.0,632.7 1514.5,625.1 1515.2,617.4 1516.0,609.6 1517.0,602.9 1520.6,594.4 1525.4,590.5 1534.0,592.4 1545.6,596.3 1555.1,598.8 1566.8,599.1 1578.2,598.8 1584.1,597.1 1591.7,594.3 1599.3,590.5 1606.0,585.8 1612.8,578.9 1619.5,571.3 1625.3,563.5 1628.2,555.9 1630.9,547.4 1632.9,537.8 1634.3,528.2 1635.4,518.7 1635.8,509.1 1635.4,499.5 1633.8,489.9 1631.9,480.2 1631.0,470.6 1629.1,461.1 1627.2,452.5 1625.3,445.2 1623.3,437.6 1621.4,429.8 1618.6,423.3 1616.6,414.7 1614.7,406.9 1611.9,400.3 1610.0,393.6 1608.0,385.8 1605.1,379.1 1603.3,371.6 1599.4,363.8 1594.6,358.0 1589.8,352.0 1583.1,347.6 1576.2,344.5 1569.6,341.1 1562.8,337.8 1556.1,334.0 1550.5,327.4 1547.1,321.5 1543.7,313.9 1540.9,307.8 1534.1,304.3 1527.4,301.4 1519.7,298.6 1512.0,296.2 1506.4,291.9 1499.7,287.1 1492.9,283.6 1486.3,280.4 1478.4,280.9 1471.0,281.7 1464.1,285.2 1457.4,289.3 1449.8,291.3 1436.5,287.1 1426.5,283.8 1413.5,283.6 1396.1,283.2 1380.8,282.8 1371.0,286.2 1363.5,291.9 1353.9,300.5 1346.1,306.3 1338.6,310.1 1329.9,314.9 1321.2,322.6 1312.7,330.1 1300.2,334.1 1286.7,336.6 1275.3,338.8 1263.8,341.0 1254.2,343.6 1251.3,346.4 1247.4,354.3 1243.6,361.8 1238.8,371.5 1235.0,382.9 1231.1,396.4 1227.3,409.7 1222.5,423.3 1217.7,434.9 1214.5,445.1 1211.9,453.4 1209.1,463.0 1207.1,472.4 1205.3,484.1 1203.9,495.7 1203.3,507.0 1203.3,518.4 1203.9,530.0 1204.8,541.4 1206.1,553.0 1208.1,562.6 1211.1,572.4 1214.8,579.9 1219.5,589.4 1225.3,597.1 1232.0,604.7 1238.8,611.6 1246.6,617.4 1256.1,622.6 1265.6,625.5 1277.1,627.4 1288.7,627.0 1300.3,624.5 1309.8,621.8 1320.4,617.4 1329.9,613.5 1336.7,608.8 1343.3,606.7 1350.9,603.3 1357.7,607.7 1363.4,611.5 1368.4,618.3 1372.0,625.0 1376.9,630.7 1382.5,637.4 1388.4,643.3 1394.3,649.0 1401.9,654.8 1409.7,659.6 1417.4,663.4 1436.3,669.1" fill="none" stroke="#008000" stroke-width="3.87" stroke-dasharray="3.87 3.87" stroke-linejoin="round"/>
<g class="rl"><text x="1426.4" y="214.1" text-anchor="middle">3</text><text x="1426.4" y="251.2" text-anchor="middle">-3</text><text x="1426.4" y="291.3" text-anchor="middle">-9</text><text x="1426.4" y="331.7" text-anchor="middle">-15</text><text x="1426.4" y="371.8" text-anchor="middle">-21</text><text x="1426.4" y="412.0" text-anchor="middle">-27</text><text x="1426.4" y="451.8" text-anchor="middle">-33</text></g>
<text class="tt" x="1409.2" y="62.2" text-anchor="middle">axis normalized vertical polar diagrams</text>
<line x1="1276.1" y1="82.9" x2="1521.6" y2="82.9" stroke="#000080" stroke-width="3.87" stroke-dasharray="19.35 11.61"/><text class="lt" x="1569.2" y="89.3" text-anchor="end">1400</text><line x1="1276.1" y1="104.8" x2="1521.6" y2="104.8" stroke="#ff00ff" stroke-width="3.87" stroke-dasharray="38.70 11.61"/><text class="lt" x="1569.2" y="111.2" text-anchor="end">2000</text><line x1="1276.1" y1="125.1" x2="1521.6" y2="125.1" stroke="#ff0000" stroke-width="3.87" stroke-dasharray="7.74 19.35"/><text class="lt" x="1569.2" y="131.5" text-anchor="end">2500</text><line x1="1276.1" y1="145.2" x2="1521.6" y2="145.2" stroke="#008000" stroke-width="3.87" stroke-dasharray="3.87 3.87"/><text class="lt" x="1569.2" y="151.6" text-anchor="end">3150</text>
<g fill="none" stroke="#000" stroke-width="1.08"><polygon points="282.0,1412.7 303.0,1411.8 323.9,1409.0 344.4,1404.5 364.5,1398.2 383.9,1390.1 402.6,1380.4 420.3,1369.1 437.0,1356.3 452.6,1342.1 466.8,1326.5 479.6,1309.8 490.9,1292.1 500.6,1273.4 508.7,1254.0 515.0,1233.9 519.5,1213.4 522.3,1192.5 523.2,1171.5 522.3,1150.5 519.5,1129.6 515.0,1109.1 508.7,1089.0 500.6,1069.6 490.9,1050.9 479.6,1033.2 466.8,1016.5 452.6,1000.9 437.0,986.7 420.3,973.9 402.6,962.6 383.9,952.9 364.5,944.8 344.4,938.5 323.9,934.0 303.0,931.2 282.0,930.3 261.0,931.2 240.1,934.0 219.6,938.5 199.5,944.8 180.1,952.9 161.4,962.6 143.7,973.9 127.0,986.7 111.4,1000.9 97.2,1016.5 84.4,1033.2 73.1,1050.9 63.4,1069.6 55.3,1089.0 49.0,1109.1 44.5,1129.6 41.7,1150.5 40.8,1171.5 41.7,1192.5 44.5,1213.4 49.0,1233.9 55.3,1254.0 63.4,1273.4 73.1,1292.1 84.4,1309.8 97.2,1326.5 111.4,1342.1 127.0,1356.3 143.7,1369.1 161.4,1380.4 180.1,1390.1 199.5,1398.2 219.6,1404.5 240.1,1409.0 261.0,1411.8"/><polygon points="282.0,1392.6 301.3,1391.8 320.4,1389.2 339.2,1385.1 357.6,1379.3 375.4,1371.9 392.5,1363.0 408.8,1352.6 424.1,1340.9 438.3,1327.8 451.4,1313.6 463.1,1298.3 473.5,1282.0 482.4,1264.9 489.8,1247.1 495.6,1228.7 499.7,1209.9 502.3,1190.8 503.1,1171.5 502.3,1152.2 499.7,1133.1 495.6,1114.3 489.8,1095.9 482.4,1078.1 473.5,1061.0 463.1,1044.7 451.4,1029.4 438.3,1015.2 424.1,1002.1 408.8,990.4 392.5,980.0 375.4,971.1 357.6,963.7 339.2,957.9 320.4,953.8 301.3,951.2 282.0,950.4 262.7,951.2 243.6,953.8 224.8,957.9 206.4,963.7 188.6,971.1 171.4,980.0 155.2,990.4 139.9,1002.1 125.7,1015.2 112.6,1029.4 100.9,1044.7 90.5,1060.9 81.6,1078.1 74.2,1095.9 68.4,1114.3 64.3,1133.1 61.7,1152.2 60.9,1171.5 61.7,1190.8 64.3,1209.9 68.4,1228.7 74.2,1247.1 81.6,1264.9 90.5,1282.0 100.9,1298.3 112.6,1313.6 125.7,1327.8 139.9,1340.9 155.2,1352.6 171.4,1363.0 188.6,1371.9 206.4,1379.3 224.8,1385.1 243.6,1389.2 262.7,1391.8"/><polygon points="282.0,1372.5 299.5,1371.7 316.9,1369.4 334.0,1365.7 350.7,1360.4 366.9,1353.7 382.5,1345.6 397.3,1336.1 411.2,1325.5 424.1,1313.6 436.0,1300.7 446.6,1286.8 456.1,1272.0 464.2,1256.4 470.9,1240.2 476.2,1223.5 479.9,1206.4 482.2,1189.0 483.0,1171.5 482.2,1154.0 479.9,1136.6 476.2,1119.5 470.9,1102.8 464.2,1086.6 456.1,1071.0 446.6,1056.2 436.0,1042.3 424.1,1029.4 411.2,1017.5 397.3,1006.9 382.5,997.4 366.9,989.3 350.7,982.6 334.0,977.3 316.9,973.6 299.5,971.3 282.0,970.5 264.5,971.3 247.1,973.6 230.0,977.3 213.3,982.6 197.1,989.3 181.5,997.4 166.7,1006.9 152.8,1017.5 139.9,1029.4 128.0,1042.3 117.4,1056.2 107.9,1071.0 99.8,1086.6 93.1,1102.8 87.8,1119.5 84.1,1136.6 81.8,1154.0 81.0,1171.5 81.8,1189.0 84.1,1206.4 87.8,1223.5 93.1,1240.2 99.8,1256.4 107.9,1272.0 117.4,1286.8 128.0,1300.7 139.9,1313.6 152.8,1325.5 166.7,1336.1 181.5,1345.6 197.1,1353.7 213.3,1360.4 230.0,1365.7 247.1,1369.4 264.5,1371.7"/><polygon points="282.0,1352.4 297.8,1351.7 313.4,1349.7 328.8,1346.2 343.9,1341.5 358.5,1335.5 372.4,1328.2 385.8,1319.7 398.3,1310.1 409.9,1299.4 420.6,1287.8 430.2,1275.3 438.7,1262.0 446.0,1248.0 452.0,1233.4 456.7,1218.3 460.2,1202.9 462.2,1187.3 462.9,1171.5 462.2,1155.7 460.2,1140.1 456.7,1124.7 452.0,1109.6 446.0,1095.0 438.7,1081.0 430.2,1067.7 420.6,1055.2 409.9,1043.6 398.3,1032.9 385.8,1023.3 372.4,1014.8 358.5,1007.5 343.9,1001.5 328.8,996.8 313.4,993.3 297.8,991.3 282.0,990.6 266.2,991.3 250.6,993.3 235.2,996.8 220.1,1001.5 205.5,1007.5 191.6,1014.8 178.2,1023.3 165.7,1032.9 154.1,1043.6 143.4,1055.2 133.8,1067.7 125.3,1081.0 118.0,1095.0 112.0,1109.6 107.3,1124.7 103.8,1140.1 101.8,1155.7 101.1,1171.5 101.8,1187.3 103.8,1202.9 107.3,1218.3 112.0,1233.4 118.0,1248.0 125.3,1262.0 133.8,1275.3 143.4,1287.8 154.1,1299.4 165.7,1310.1 178.2,1319.7 191.5,1328.2 205.5,1335.5 220.1,1341.5 235.2,1346.2 250.6,1349.7 266.2,1351.7"/><polygon points="282.0,1332.3 296.0,1331.7 309.9,1329.9 323.6,1326.8 337.0,1322.6 350.0,1317.2 362.4,1310.8 374.2,1303.2 385.4,1294.7 395.7,1285.2 405.2,1274.9 413.7,1263.7 421.3,1251.9 427.7,1239.5 433.1,1226.5 437.3,1213.1 440.4,1199.4 442.2,1185.5 442.8,1171.5 442.2,1157.5 440.4,1143.6 437.3,1129.9 433.1,1116.5 427.7,1103.5 421.3,1091.1 413.7,1079.3 405.2,1068.1 395.7,1057.8 385.4,1048.3 374.2,1039.8 362.4,1032.2 350.0,1025.8 337.0,1020.4 323.6,1016.2 309.9,1013.1 296.0,1011.3 282.0,1010.7 268.0,1011.3 254.1,1013.1 240.4,1016.2 227.0,1020.4 214.0,1025.8 201.6,1032.2 189.8,1039.8 178.6,1048.3 168.3,1057.8 158.8,1068.1 150.3,1079.3 142.7,1091.1 136.3,1103.5 130.9,1116.5 126.7,1129.9 123.6,1143.6 121.8,1157.5 121.2,1171.5 121.8,1185.5 123.6,1199.4 126.7,1213.1 130.9,1226.5 136.3,1239.5 142.7,1251.9 150.3,1263.7 158.8,1274.9 168.3,1285.2 178.6,1294.7 189.8,1303.2 201.6,1310.8 214.0,1317.2 227.0,1322.6 240.4,1326.8 254.1,1329.9 268.0,1331.7"/><polygon points="282.0,1312.2 294.3,1311.7 306.4,1310.1 318.4,1307.4 330.1,1303.7 341.5,1299.0 352.3,1293.3 362.7,1286.8 372.4,1279.3 381.5,1271.0 389.8,1261.9 397.3,1252.2 403.8,1241.8 409.5,1231.0 414.2,1219.6 417.9,1207.9 420.6,1195.9 422.2,1183.8 422.7,1171.5 422.2,1159.2 420.6,1147.1 417.9,1135.1 414.2,1123.4 409.5,1112.0 403.8,1101.2 397.3,1090.8 389.8,1081.1 381.5,1072.0 372.4,1063.7 362.7,1056.2 352.3,1049.7 341.5,1044.0 330.1,1039.3 318.4,1035.6 306.4,1032.9 294.3,1031.3 282.0,1030.8 269.7,1031.3 257.6,1032.9 245.6,1035.6 233.9,1039.3 222.5,1044.0 211.6,1049.7 201.3,1056.2 191.6,1063.7 182.5,1072.0 174.2,1081.1 166.7,1090.8 160.2,1101.1 154.5,1112.0 149.8,1123.4 146.1,1135.1 143.4,1147.1 141.8,1159.2 141.3,1171.5 141.8,1183.8 143.4,1195.9 146.1,1207.9 149.8,1219.6 154.5,1231.0 160.2,1241.8 166.7,1252.2 174.2,1261.9 182.5,1271.0 191.6,1279.3 201.3,1286.8 211.6,1293.3 222.5,1299.0 233.9,1303.7 245.6,1307.4 257.6,1310.1 269.7,1311.7"/><polygon points="282.0,1292.1 292.5,1291.6 302.9,1290.3 313.2,1288.0 323.2,1284.8 333.0,1280.8 342.3,1275.9 351.2,1270.3 359.5,1263.9 367.3,1256.8 374.4,1249.0 380.8,1240.7 386.4,1231.8 391.3,1222.5 395.3,1212.7 398.5,1202.7 400.8,1192.4 402.1,1182.0 402.6,1171.5 402.1,1161.0 400.8,1150.6 398.5,1140.3 395.3,1130.3 391.3,1120.5 386.4,1111.2 380.8,1102.3 374.4,1094.0 367.3,1086.2 359.5,1079.1 351.2,1072.7 342.3,1067.1 333.0,1062.2 323.2,1058.2 313.2,1055.0 302.9,1052.7 292.5,1051.4 282.0,1050.9 271.5,1051.4 261.1,1052.7 250.8,1055.0 240.8,1058.2 231.0,1062.2 221.7,1067.1 212.8,1072.7 204.5,1079.1 196.7,1086.2 189.6,1094.0 183.2,1102.3 177.6,1111.2 172.7,1120.5 168.7,1130.3 165.5,1140.3 163.2,1150.6 161.9,1161.0 161.4,1171.5 161.9,1182.0 163.2,1192.4 165.5,1202.7 168.7,1212.7 172.7,1222.5 177.6,1231.8 183.2,1240.7 189.6,1249.0 196.7,1256.8 204.5,1263.9 212.8,1270.3 221.7,1275.9 231.0,1280.8 240.8,1284.8 250.8,1288.0 261.1,1290.3 271.5,1291.6"/><polygon points="282.0,1272.0 290.8,1271.6 299.5,1270.5 308.0,1268.6 316.4,1265.9 324.5,1262.6 332.2,1258.5 339.6,1253.8 346.6,1248.5 353.1,1242.6 359.0,1236.1 364.3,1229.1 369.0,1221.8 373.1,1214.0 376.4,1205.9 379.1,1197.5 381.0,1189.0 382.1,1180.3 382.5,1171.5 382.1,1162.7 381.0,1154.0 379.1,1145.5 376.4,1137.1 373.1,1129.0 369.0,1121.2 364.3,1113.9 359.0,1106.9 353.1,1100.4 346.6,1094.5 339.6,1089.2 332.2,1084.5 324.5,1080.4 316.4,1077.1 308.0,1074.4 299.5,1072.5 290.8,1071.4 282.0,1071.0 273.2,1071.4 264.5,1072.5 256.0,1074.4 247.6,1077.1 239.5,1080.4 231.8,1084.5 224.4,1089.2 217.4,1094.5 210.9,1100.4 205.0,1106.9 199.7,1113.9 195.0,1121.2 190.9,1129.0 187.6,1137.1 184.9,1145.5 183.0,1154.0 181.9,1162.7 181.5,1171.5 181.9,1180.3 183.0,1189.0 184.9,1197.5 187.6,1205.9 190.9,1214.0 195.0,1221.8 199.7,1229.1 205.0,1236.1 210.9,1242.6 217.4,1248.5 224.4,1253.8 231.7,1258.5 239.5,1262.6 247.6,1265.9 256.0,1268.6 264.5,1270.5 273.2,1271.6"/><polygon points="282.0,1251.9 289.0,1251.6 296.0,1250.7 302.8,1249.2 309.5,1247.1 316.0,1244.4 322.2,1241.1 328.1,1237.4 333.7,1233.1 338.9,1228.4 343.6,1223.2 347.9,1217.6 351.6,1211.7 354.9,1205.5 357.6,1199.0 359.7,1192.3 361.2,1185.5 362.1,1178.5 362.4,1171.5 362.1,1164.5 361.2,1157.5 359.7,1150.7 357.6,1144.0 354.9,1137.5 351.6,1131.3 347.9,1125.4 343.6,1119.8 338.9,1114.6 333.7,1109.9 328.1,1105.6 322.2,1101.9 316.0,1098.6 309.5,1095.9 302.8,1093.8 296.0,1092.3 289.0,1091.4 282.0,1091.1 275.0,1091.4 268.0,1092.3 261.2,1093.8 254.5,1095.9 248.0,1098.6 241.8,1101.9 235.9,1105.6 230.3,1109.9 225.1,1114.6 220.4,1119.8 216.1,1125.4 212.4,1131.3 209.1,1137.5 206.4,1144.0 204.3,1150.7 202.8,1157.5 201.9,1164.5 201.6,1171.5 201.9,1178.5 202.8,1185.5 204.3,1192.3 206.4,1199.0 209.1,1205.5 212.4,1211.7 216.1,1217.6 220.4,1223.2 225.1,1228.4 230.3,1233.1 235.9,1237.4 241.8,1241.1 248.0,1244.4 254.5,1247.1 261.2,1249.2 268.0,1250.7 275.0,1251.6"/><polygon points="282.0,1231.8 287.3,1231.6 292.5,1230.9 297.6,1229.7 302.6,1228.2 307.5,1226.2 312.1,1223.7 316.6,1220.9 320.8,1217.7 324.6,1214.1 328.2,1210.3 331.4,1206.1 334.2,1201.7 336.7,1197.0 338.7,1192.1 340.2,1187.1 341.4,1182.0 342.1,1176.8 342.3,1171.5 342.1,1166.2 341.4,1161.0 340.2,1155.9 338.7,1150.9 336.7,1146.0 334.2,1141.3 331.4,1136.9 328.2,1132.7 324.6,1128.9 320.8,1125.3 316.6,1122.1 312.1,1119.3 307.5,1116.8 302.6,1114.8 297.6,1113.3 292.5,1112.1 287.3,1111.4 282.0,1111.2 276.7,1111.4 271.5,1112.1 266.4,1113.3 261.4,1114.8 256.5,1116.8 251.8,1119.3 247.4,1122.1 243.2,1125.3 239.4,1128.9 235.8,1132.7 232.6,1136.9 229.8,1141.3 227.3,1146.0 225.3,1150.9 223.8,1155.9 222.6,1161.0 221.9,1166.2 221.7,1171.5 221.9,1176.8 222.6,1182.0 223.8,1187.1 225.3,1192.1 227.3,1197.0 229.8,1201.7 232.6,1206.1 235.8,1210.3 239.4,1214.1 243.2,1217.7 247.4,1220.9 251.8,1223.7 256.5,1226.2 261.4,1228.2 266.4,1229.7 271.5,1230.9 276.7,1231.6"/><polygon points="282.0,1211.7 285.5,1211.5 289.0,1211.1 292.4,1210.3 295.7,1209.3 299.0,1207.9 302.1,1206.3 305.1,1204.4 307.8,1202.3 310.4,1199.9 312.8,1197.3 314.9,1194.6 316.8,1191.6 318.4,1188.5 319.8,1185.2 320.8,1181.9 321.6,1178.5 322.0,1175.0 322.2,1171.5 322.0,1168.0 321.6,1164.5 320.8,1161.1 319.8,1157.8 318.4,1154.5 316.8,1151.4 314.9,1148.4 312.8,1145.7 310.4,1143.1 307.8,1140.7 305.1,1138.6 302.1,1136.7 299.0,1135.1 295.7,1133.7 292.4,1132.7 289.0,1131.9 285.5,1131.5 282.0,1131.3 278.5,1131.5 275.0,1131.9 271.6,1132.7 268.3,1133.7 265.0,1135.1 261.9,1136.7 258.9,1138.6 256.2,1140.7 253.6,1143.1 251.2,1145.7 249.1,1148.4 247.2,1151.4 245.6,1154.5 244.2,1157.8 243.2,1161.1 242.4,1164.5 242.0,1168.0 241.8,1171.5 242.0,1175.0 242.4,1178.5 243.2,1181.9 244.2,1185.2 245.6,1188.5 247.2,1191.6 249.1,1194.6 251.2,1197.3 253.6,1199.9 256.2,1202.3 258.9,1204.4 261.9,1206.3 265.0,1207.9 268.3,1209.3 271.6,1210.3 275.0,1211.1 278.5,1211.5"/><polygon points="282.0,1191.6 283.8,1191.5 285.5,1191.3 287.2,1190.9 288.9,1190.4 290.5,1189.7 292.1,1188.9 293.5,1188.0 294.9,1186.9 296.2,1185.7 297.4,1184.4 298.5,1183.0 299.4,1181.5 300.2,1180.0 300.9,1178.4 301.4,1176.7 301.8,1175.0 302.0,1173.3 302.1,1171.5 302.0,1169.7 301.8,1168.0 301.4,1166.3 300.9,1164.6 300.2,1163.0 299.4,1161.5 298.5,1160.0 297.4,1158.6 296.2,1157.3 294.9,1156.1 293.5,1155.0 292.1,1154.1 290.5,1153.3 288.9,1152.6 287.2,1152.1 285.5,1151.7 283.8,1151.5 282.0,1151.4 280.2,1151.5 278.5,1151.7 276.8,1152.1 275.1,1152.6 273.5,1153.3 271.9,1154.1 270.5,1155.0 269.1,1156.1 267.8,1157.3 266.6,1158.6 265.5,1160.0 264.6,1161.5 263.8,1163.0 263.1,1164.6 262.6,1166.3 262.2,1168.0 262.0,1169.7 261.9,1171.5 262.0,1173.3 262.2,1175.0 262.6,1176.7 263.1,1178.4 263.8,1180.0 264.6,1181.5 265.5,1183.0 266.6,1184.4 267.8,1185.7 269.1,1186.9 270.5,1188.0 271.9,1188.9 273.5,1189.7 275.1,1190.4 276.8,1190.9 278.5,1191.3 280.2,1191.5"/><line x1="282.00" y1="1171.50" x2="282.00" y2="1413.90"/><line x1="282.00" y1="1171.50" x2="344.74" y2="1405.64"/><line x1="282.00" y1="1171.50" x2="403.20" y2="1381.42"/><line x1="282.00" y1="1171.50" x2="453.40" y2="1342.90"/><line x1="282.00" y1="1171.50" x2="491.92" y2="1292.70"/><line x1="282.00" y1="1171.50" x2="516.14" y2="1234.24"/><line x1="282.00" y1="1171.50" x2="524.40" y2="1171.50"/><line x1="282.00" y1="1171.50" x2="516.14" y2="1108.76"/><line x1="282.00" y1="1171.50" x2="491.92" y2="1050.30"/><line x1="282.00" y1="1171.50" x2="453.40" y2="1000.10"/><line x1="282.00" y1="1171.50" x2="403.20" y2="961.58"/><line x1="282.00" y1="1171.50" x2="344.74" y2="937.36"/><line x1="282.00" y1="1171.50" x2="282.00" y2="929.10"/><line x1="282.00" y1="1171.50" x2="219.26" y2="937.36"/><line x1="282.00" y1="1171.50" x2="160.80" y2="961.58"/><line x1="282.00" y1="1171.50" x2="110.60" y2="1000.10"/><line x1="282.00" y1="1171.50" x2="72.08" y2="1050.30"/><line x1="282.00" y1="1171.50" x2="47.86" y2="1108.76"/><line x1="282.00" y1="1171.50" x2="39.60" y2="1171.50"/><line x1="282.00" y1="1171.50" x2="47.86" y2="1234.24"/><line x1="282.00" y1="1171.50" x2="72.08" y2="1292.70"/><line x1="282.00" y1="1171.50" x2="110.60" y2="1342.90"/><line x1="282.00" y1="1171.50" x2="160.80" y2="1381.42"/><line x1="282.00" y1="1171.50" x2="219.26" y2="1405.64"/></g>
<g class="al"><text x="282.5" y="921.2" text-anchor="middle">180</text><text x="282.5" y="1435.2" text-anchor="middle">0</text><text x="340.5" y="929.5" text-anchor="start">165</text><text x="397.7" y="952.9" text-anchor="start">150</text><text x="449.1" y="990.9" text-anchor="start">135</text><text x="492.6" y="1046.5" text-anchor="start">120</text><text x="519.8" y="1110.8" text-anchor="start">105</text><text x="532.3" y="1177.6" text-anchor="start">90</text><text x="524.6" y="1243.4" text-anchor="start">75</text><text x="496.2" y="1309.3" text-anchor="start">60</text><text x="453.6" y="1360.4" text-anchor="start">45</text><text x="402.4" y="1402.6" text-anchor="start">30</text><text x="339.6" y="1426.6" text-anchor="start">15</text><text x="223.2" y="929.5" text-anchor="end">195</text><text x="165.6" y="952.9" text-anchor="end">210</text><text x="114.7" y="990.9" text-anchor="end">225</text><text x="69.3" y="1046.5" text-anchor="end">240</text><text x="41.9" y="1110.8" text-anchor="end">255</text><text x="33.2" y="1177.6" text-anchor="end">270</text><text x="41.9" y="1243.4" text-anchor="end">285</text><text x="68.3" y="1309.3" text-anchor="end">300</text><text x="106.7" y="1360.4" text-anchor="end">315</text><text x="164.2" y="1402.6" text-anchor="end">330</text><text x="224.1" y="1426.6" text-anchor="end">345</text></g>
<polyline points="282.0,1392.6 314.6,1389.9 341.6,1382.2 389.4,1359.7 423.0,1333.7 443.3,1307.8 451.8,1295.3 457.5,1282.9 464.3,1265.6 468.5,1252.2 473.9,1238.7 476.2,1223.5 479.0,1210.2 478.6,1192.9 476.7,1178.3 474.8,1171.2 472.9,1162.8 470.0,1149.4 468.1,1137.7 464.3,1133.1 459.4,1121.3 457.9,1108.9 454.7,1104.2 446.9,1093.5 437.4,1079.2 430.7,1067.8 417.4,1056.3 410.6,1043.8 398.1,1033.2 387.6,1025.6 372.3,1017.0 361.5,1009.2 345.5,1002.6 332.9,998.7 316.7,992.9 304.1,989.1 297.4,987.8 282.0,989.7 266.6,987.8 259.9,989.1 247.3,992.9 231.1,998.7 218.5,1002.6 202.5,1009.2 191.7,1017.0 176.4,1025.6 165.9,1033.2 153.4,1043.8 146.6,1056.3 133.3,1067.8 126.6,1079.2 117.1,1093.5 109.3,1104.2 106.1,1108.9 104.6,1121.3 99.7,1133.1 95.9,1137.7 94.0,1149.4 91.1,1162.8 89.2,1171.2 87.3,1178.3 85.4,1192.9 85.0,1210.2 87.8,1223.5 90.1,1238.7 95.5,1252.2 99.7,1265.6 106.5,1282.9 112.2,1295.3 120.7,1307.8 141.0,1333.7 174.6,1359.7 222.4,1382.2 249.4,1389.9 282.0,1392.6" fill="none" stroke="#000080" stroke-width="3.87" stroke-dasharray="19.35 11.61" stroke-linejoin="round"/>
<polyline points="282.0,1392.6 295.5,1391.9 308.9,1390.7 322.3,1388.8 333.9,1386.1 345.3,1382.6 357.0,1378.8 368.4,1374.0 380.0,1367.2 390.3,1360.6 400.9,1353.9 410.7,1346.1 421.2,1337.4 429.9,1327.9 437.4,1319.4 445.1,1309.8 451.9,1299.1 457.6,1288.6 462.4,1279.0 467.2,1267.5 471.0,1254.1 473.9,1240.6 474.8,1229.3 475.4,1217.6 474.8,1202.4 473.8,1189.0 472.3,1179.5 470.4,1171.2 465.3,1155.1 461.4,1143.4 456.6,1128.3 447.0,1108.8 442.2,1096.5 433.5,1080.1 426.0,1065.0 419.2,1051.4 412.6,1040.0 397.1,1023.6 388.6,1014.1 374.9,1002.5 364.4,994.8 357.8,992.0 347.3,987.2 334.0,981.4 312.7,975.3 300.4,973.4 282.0,972.4 263.6,973.4 251.3,975.3 230.0,981.4 216.7,987.2 206.2,992.0 199.6,994.8 189.1,1002.5 175.4,1014.1 166.9,1023.6 151.4,1040.0 144.8,1051.4 138.0,1065.0 130.5,1080.1 121.8,1096.5 117.0,1108.8 107.4,1128.3 102.6,1143.4 98.7,1155.1 93.6,1171.2 91.7,1179.5 90.2,1189.0 89.2,1202.4 88.6,1217.6 89.2,1229.3 90.1,1240.6 93.0,1254.1 96.8,1267.5 101.6,1279.0 106.4,1288.6 112.1,1299.1 118.9,1309.8 126.6,1319.4 134.1,1327.9 142.8,1337.4 153.3,1346.1 163.1,1353.9 173.7,1360.6 184.0,1367.2 195.6,1374.0 207.0,1378.8 218.7,1382.6 230.1,1386.1 241.7,1388.8 255.1,1390.7 268.5,1391.9 282.0,1392.6" fill="none" stroke="#ff00ff" stroke-width="3.87" stroke-dasharray="38.70 11.61" stroke-linejoin="round"/>
<polyline points="282.0,1392.6 302.1,1391.9 328.9,1386.5 353.8,1378.8 378.3,1366.3 399.3,1350.1 418.4,1331.7 433.5,1309.8 446.0,1286.4 457.6,1262.1 465.8,1236.9 472.3,1209.9 474.8,1183.3 473.9,1171.2 472.3,1157.9 464.6,1132.3 452.7,1108.0 435.9,1086.9 415.4,1070.6 393.4,1055.3 370.4,1041.0 346.4,1028.9 323.3,1015.0 298.2,1005.9 282.0,1004.1 265.8,1005.9 240.7,1015.0 217.6,1028.9 193.6,1041.0 170.6,1055.3 148.6,1070.6 128.1,1086.9 111.3,1108.0 99.4,1132.3 91.7,1157.9 90.1,1171.2 89.2,1183.3 91.7,1209.9 98.2,1236.9 106.4,1262.1 118.0,1286.4 130.5,1309.8 145.6,1331.7 164.7,1350.1 185.7,1366.3 210.2,1378.8 235.1,1386.5 261.9,1391.9 282.0,1392.6" fill="none" stroke="#ff0000" stroke-width="3.87" stroke-dasharray="7.74 19.35" stroke-linejoin="round"/>
<polyline points="282.0,1392.6 301.3,1391.6 314.6,1389.9 324.4,1387.4 333.8,1384.2 343.3,1379.8 352.9,1374.0 362.7,1368.3 372.2,1361.5 379.8,1355.4 387.5,1349.1 395.3,1339.5 401.9,1331.8 407.6,1323.3 412.6,1314.5 416.8,1306.8 420.5,1299.3 424.3,1288.8 427.8,1278.2 430.6,1267.6 433.5,1256.2 435.8,1247.5 438.3,1237.9 441.3,1227.3 442.8,1217.6 443.5,1208.2 443.6,1198.5 442.8,1189.0 440.3,1180.3 437.4,1171.2 433.5,1163.6 427.8,1153.1 422.1,1145.3 418.2,1139.6 415.3,1134.8 412.5,1126.3 409.6,1118.6 406.8,1110.9 403.8,1103.1 401.3,1095.5 399.1,1088.0 397.1,1080.2 394.3,1074.5 390.4,1069.7 385.6,1065.8 378.0,1063.0 370.4,1062.0 362.7,1062.4 354.9,1063.4 347.3,1065.8 340.5,1067.7 333.0,1069.7 325.3,1070.1 318.5,1067.7 311.8,1063.9 305.1,1060.0 297.5,1057.2 289.7,1055.6 282.0,1055.7 274.3,1055.6 266.5,1057.2 258.9,1060.0 252.2,1063.9 245.5,1067.7 238.7,1070.1 231.0,1069.7 223.5,1067.7 216.7,1065.8 209.1,1063.4 201.3,1062.4 193.6,1062.0 186.0,1063.0 178.4,1065.8 173.6,1069.7 169.7,1074.5 166.9,1080.2 164.9,1088.0 162.7,1095.5 160.2,1103.1 157.2,1110.9 154.4,1118.6 151.5,1126.3 148.7,1134.8 145.8,1139.6 141.9,1145.3 136.2,1153.1 130.5,1163.6 126.6,1171.2 123.7,1180.3 121.2,1189.0 120.4,1198.5 120.5,1208.2 121.2,1217.6 122.7,1227.3 125.7,1237.9 128.2,1247.5 130.5,1256.2 133.4,1267.6 136.2,1278.2 139.7,1288.8 143.5,1299.3 147.2,1306.8 151.4,1314.5 156.4,1323.3 162.1,1331.8 168.7,1339.5 176.5,1349.1 184.2,1355.4 191.8,1361.5 201.3,1368.3 211.1,1374.0 220.7,1379.8 230.2,1384.2 239.6,1387.4 249.4,1389.9 262.7,1391.6 282.0,1392.6" fill="none" stroke="#008000" stroke-width="3.87" stroke-dasharray="3.87 3.87" stroke-linejoin="round"/>
<g class="rl"><text x="282.5" y="939.6" text-anchor="middle">3</text><text x="282.5" y="976.7" text-anchor="middle">-3</text><text x="282.5" y="1016.9" text-anchor="middle">-9</text><text x="282.5" y="1057.1" text-anchor="middle">-15</text><text x="282.5" y="1097.4" text-anchor="middle">-21</text><text x="282.5" y="1137.7" text-anchor="middle">-27</text><text x="282.5" y="1177.0" text-anchor="middle">-33</text></g>
<text class="tt" x="277.1" y="785.4" text-anchor="middle">Horizontal polar diagrams</text>
<line x1="136.1" y1="811.8" x2="381.6" y2="811.8" stroke="#000080" stroke-width="3.87" stroke-dasharray="19.35 11.61"/><text class="lt" x="429.2" y="818.2" text-anchor="end">250</text><line x1="136.1" y1="833.5" x2="381.6" y2="833.5" stroke="#ff00ff" stroke-width="3.87" stroke-dasharray="38.70 11.61"/><text class="lt" x="429.2" y="839.9" text-anchor="end">500</text><line x1="136.1" y1="854.4" x2="381.6" y2="854.4" stroke="#ff0000" stroke-width="3.87" stroke-dasharray="7.74 19.35"/><text class="lt" x="429.2" y="860.8" text-anchor="end">1000</text><line x1="136.1" y1="874.2" x2="381.6" y2="874.2" stroke="#008000" stroke-width="3.87" stroke-dasharray="3.87 3.87"/><text class="lt" x="429.2" y="880.6" text-anchor="end">2000</text>
<g fill="none" stroke="#000" stroke-width="1.08"><polygon points="852.5,1411.9 873.5,1411.0 894.2,1408.2 914.7,1403.7 934.7,1397.4 954.1,1389.4 972.7,1379.7 990.4,1368.4 1007.0,1355.7 1022.5,1341.5 1036.7,1326.0 1049.4,1309.4 1060.7,1291.7 1070.4,1273.1 1078.4,1253.7 1084.7,1233.7 1089.2,1213.2 1092.0,1192.5 1092.9,1171.5 1092.0,1150.5 1089.2,1129.8 1084.7,1109.3 1078.4,1089.3 1070.4,1069.9 1060.7,1051.3 1049.4,1033.6 1036.7,1017.0 1022.5,1001.5 1007.0,987.3 990.4,974.6 972.7,963.3 954.1,953.6 934.7,945.6 914.7,939.3 894.2,934.8 873.5,932.0 852.5,931.1 831.5,932.0 810.8,934.8 790.3,939.3 770.3,945.6 750.9,953.6 732.3,963.3 714.6,974.6 698.0,987.3 682.5,1001.5 668.3,1017.0 655.6,1033.6 644.3,1051.3 634.6,1069.9 626.6,1089.3 620.3,1109.3 615.8,1129.8 613.0,1150.5 612.1,1171.5 613.0,1192.5 615.8,1213.2 620.3,1233.7 626.6,1253.7 634.6,1273.1 644.3,1291.7 655.6,1309.4 668.3,1326.0 682.5,1341.5 698.0,1355.7 714.6,1368.4 732.3,1379.7 750.9,1389.4 770.3,1397.4 790.3,1403.7 810.8,1408.2 831.5,1411.0"/><polygon points="852.5,1391.9 871.7,1391.0 890.8,1388.5 909.5,1384.4 927.9,1378.6 945.6,1371.2 962.7,1362.3 978.9,1352.0 994.1,1340.3 1008.3,1327.3 1021.3,1313.1 1033.0,1297.9 1043.3,1281.7 1052.2,1264.6 1059.6,1246.9 1065.4,1228.5 1069.5,1209.8 1072.0,1190.7 1072.9,1171.5 1072.0,1152.3 1069.5,1133.2 1065.4,1114.5 1059.6,1096.1 1052.2,1078.4 1043.3,1061.3 1033.0,1045.1 1021.3,1029.9 1008.3,1015.7 994.1,1002.7 978.9,991.0 962.7,980.7 945.6,971.8 927.9,964.4 909.5,958.6 890.8,954.5 871.7,952.0 852.5,951.1 833.3,952.0 814.2,954.5 795.5,958.6 777.1,964.4 759.4,971.8 742.3,980.7 726.1,991.0 710.9,1002.7 696.7,1015.7 683.7,1029.9 672.0,1045.1 661.7,1061.3 652.8,1078.4 645.4,1096.1 639.6,1114.5 635.5,1133.2 633.0,1152.3 632.1,1171.5 633.0,1190.7 635.5,1209.8 639.6,1228.5 645.4,1246.9 652.8,1264.6 661.7,1281.7 672.0,1297.9 683.7,1313.1 696.7,1327.3 710.9,1340.3 726.1,1352.0 742.3,1362.3 759.4,1371.2 777.1,1378.6 795.5,1384.4 814.2,1388.5 833.3,1391.0"/><polygon points="852.5,1371.8 870.0,1371.1 887.3,1368.8 904.4,1365.0 921.0,1359.8 937.2,1353.1 952.7,1345.0 967.4,1335.6 981.3,1325.0 994.2,1313.2 1006.0,1300.3 1016.6,1286.4 1026.0,1271.7 1034.1,1256.2 1040.8,1240.0 1046.0,1223.4 1049.8,1206.3 1052.1,1189.0 1052.8,1171.5 1052.1,1154.0 1049.8,1136.7 1046.0,1119.6 1040.8,1103.0 1034.1,1086.8 1026.0,1071.3 1016.6,1056.6 1006.0,1042.7 994.2,1029.8 981.3,1018.0 967.4,1007.4 952.7,998.0 937.2,989.9 921.0,983.2 904.4,978.0 887.3,974.2 870.0,971.9 852.5,971.2 835.0,971.9 817.7,974.2 800.6,978.0 784.0,983.2 767.8,989.9 752.3,998.0 737.6,1007.4 723.7,1018.0 710.8,1029.8 699.0,1042.7 688.4,1056.6 679.0,1071.3 670.9,1086.8 664.2,1103.0 659.0,1119.6 655.2,1136.7 652.9,1154.0 652.2,1171.5 652.9,1189.0 655.2,1206.3 659.0,1223.4 664.2,1240.0 670.9,1256.2 679.0,1271.7 688.4,1286.4 699.0,1300.3 710.8,1313.2 723.7,1325.0 737.6,1335.6 752.3,1345.0 767.8,1353.1 784.0,1359.8 800.6,1365.0 817.7,1368.8 835.0,1371.1"/><polygon points="852.5,1351.8 868.2,1351.1 883.8,1349.1 899.2,1345.7 914.2,1340.9 928.7,1334.9 942.6,1327.6 955.9,1319.2 968.4,1309.6 980.0,1299.0 990.6,1287.4 1000.2,1274.9 1008.6,1261.7 1015.9,1247.7 1021.9,1233.2 1026.7,1218.2 1030.1,1202.8 1032.1,1187.2 1032.8,1171.5 1032.1,1155.8 1030.1,1140.2 1026.7,1124.8 1021.9,1109.8 1015.9,1095.3 1008.6,1081.4 1000.2,1068.1 990.6,1055.6 980.0,1044.0 968.4,1033.4 955.9,1023.8 942.6,1015.4 928.7,1008.1 914.2,1002.1 899.2,997.3 883.8,993.9 868.2,991.9 852.5,991.2 836.8,991.9 821.2,993.9 805.8,997.3 790.8,1002.1 776.3,1008.1 762.4,1015.4 749.1,1023.8 736.6,1033.4 725.0,1044.0 714.4,1055.6 704.8,1068.1 696.4,1081.3 689.1,1095.3 683.1,1109.8 678.3,1124.8 674.9,1140.2 672.9,1155.8 672.2,1171.5 672.9,1187.2 674.9,1202.8 678.3,1218.2 683.1,1233.2 689.1,1247.7 696.4,1261.7 704.8,1274.9 714.4,1287.4 725.0,1299.0 736.6,1309.6 749.1,1319.2 762.3,1327.6 776.3,1334.9 790.8,1340.9 805.8,1345.7 821.2,1349.1 836.8,1351.1"/><polygon points="852.5,1331.8 866.5,1331.2 880.3,1329.3 894.0,1326.3 907.3,1322.1 920.2,1316.8 932.6,1310.3 944.4,1302.8 955.5,1294.3 965.8,1284.8 975.3,1274.5 983.8,1263.4 991.3,1251.6 997.8,1239.2 1003.1,1226.3 1007.3,1213.0 1010.3,1199.3 1012.2,1185.5 1012.8,1171.5 1012.2,1157.5 1010.3,1143.7 1007.3,1130.0 1003.1,1116.7 997.8,1103.8 991.3,1091.4 983.8,1079.6 975.3,1068.5 965.8,1058.2 955.5,1048.7 944.4,1040.2 932.6,1032.7 920.2,1026.2 907.3,1020.9 894.0,1016.7 880.3,1013.7 866.5,1011.8 852.5,1011.2 838.5,1011.8 824.7,1013.7 811.0,1016.7 797.7,1020.9 784.8,1026.2 772.4,1032.7 760.6,1040.2 749.5,1048.7 739.2,1058.2 729.7,1068.5 721.2,1079.6 713.7,1091.4 707.2,1103.8 701.9,1116.7 697.7,1130.0 694.7,1143.7 692.8,1157.5 692.2,1171.5 692.8,1185.5 694.7,1199.3 697.7,1213.0 701.9,1226.3 707.2,1239.2 713.7,1251.6 721.2,1263.4 729.7,1274.5 739.2,1284.8 749.5,1294.3 760.6,1302.8 772.4,1310.3 784.8,1316.8 797.7,1322.1 811.0,1326.3 824.7,1329.3 838.5,1331.2"/><polygon points="852.5,1311.7 864.7,1311.2 876.9,1309.6 888.8,1307.0 900.5,1303.3 911.8,1298.6 922.6,1292.9 932.9,1286.4 942.6,1278.9 951.7,1270.7 959.9,1261.6 967.4,1251.9 973.9,1241.6 979.6,1230.8 984.3,1219.5 988.0,1207.8 990.6,1195.9 992.2,1183.7 992.7,1171.5 992.2,1159.3 990.6,1147.1 988.0,1135.2 984.3,1123.5 979.6,1112.2 973.9,1101.4 967.4,1091.1 959.9,1081.4 951.7,1072.3 942.6,1064.1 932.9,1056.6 922.6,1050.1 911.8,1044.4 900.5,1039.7 888.8,1036.0 876.9,1033.4 864.7,1031.8 852.5,1031.3 840.3,1031.8 828.1,1033.4 816.2,1036.0 804.5,1039.7 793.2,1044.4 782.4,1050.1 772.1,1056.6 762.4,1064.1 753.3,1072.3 745.1,1081.4 737.6,1091.1 731.1,1101.4 725.4,1112.2 720.7,1123.5 717.0,1135.2 714.4,1147.1 712.8,1159.3 712.3,1171.5 712.8,1183.7 714.4,1195.9 717.0,1207.8 720.7,1219.5 725.4,1230.8 731.1,1241.6 737.6,1251.9 745.1,1261.6 753.3,1270.7 762.4,1278.9 772.1,1286.4 782.4,1292.9 793.2,1298.6 804.5,1303.3 816.2,1307.0 828.1,1309.6 840.3,1311.2"/><polygon points="852.5,1291.7 863.0,1291.2 873.4,1289.9 883.6,1287.6 893.6,1284.5 903.3,1280.4 912.6,1275.6 921.4,1270.0 929.8,1263.6 937.5,1256.5 944.6,1248.8 951.0,1240.4 956.6,1231.6 961.4,1222.3 965.5,1212.6 968.6,1202.6 970.9,1192.4 972.2,1182.0 972.7,1171.5 972.2,1161.0 970.9,1150.6 968.6,1140.4 965.5,1130.4 961.4,1120.7 956.6,1111.4 951.0,1102.6 944.6,1094.2 937.5,1086.5 929.8,1079.4 921.4,1073.0 912.6,1067.4 903.3,1062.6 893.6,1058.5 883.6,1055.4 873.4,1053.1 863.0,1051.8 852.5,1051.3 842.0,1051.8 831.6,1053.1 821.4,1055.4 811.4,1058.5 801.7,1062.6 792.4,1067.4 783.6,1073.0 775.2,1079.4 767.5,1086.5 760.4,1094.2 754.0,1102.6 748.4,1111.4 743.6,1120.7 739.5,1130.4 736.4,1140.4 734.1,1150.6 732.8,1161.0 732.3,1171.5 732.8,1182.0 734.1,1192.4 736.4,1202.6 739.5,1212.6 743.6,1222.3 748.4,1231.6 754.0,1240.4 760.4,1248.8 767.5,1256.5 775.2,1263.6 783.6,1270.0 792.4,1275.6 801.7,1280.4 811.4,1284.5 821.4,1287.6 831.6,1289.9 842.0,1291.2"/><polygon points="852.5,1271.7 861.2,1271.3 869.9,1270.1 878.4,1268.3 886.8,1265.6 894.8,1262.3 902.6,1258.2 910.0,1253.6 916.9,1248.2 923.3,1242.3 929.2,1235.9 934.6,1229.0 939.2,1221.6 943.3,1213.8 946.6,1205.8 949.3,1197.4 951.1,1188.9 952.3,1180.2 952.7,1171.5 952.3,1162.8 951.1,1154.1 949.3,1145.6 946.6,1137.2 943.3,1129.2 939.2,1121.4 934.6,1114.0 929.2,1107.1 923.3,1100.7 916.9,1094.8 910.0,1089.4 902.6,1084.8 894.8,1080.7 886.8,1077.4 878.4,1074.7 869.9,1072.9 861.2,1071.7 852.5,1071.3 843.8,1071.7 835.1,1072.9 826.6,1074.7 818.2,1077.4 810.2,1080.7 802.4,1084.8 795.0,1089.4 788.1,1094.8 781.7,1100.7 775.8,1107.1 770.4,1114.0 765.8,1121.4 761.7,1129.2 758.4,1137.2 755.7,1145.6 753.9,1154.1 752.7,1162.8 752.3,1171.5 752.7,1180.2 753.9,1188.9 755.7,1197.4 758.4,1205.8 761.7,1213.8 765.8,1221.6 770.4,1229.0 775.8,1235.9 781.7,1242.3 788.1,1248.2 795.0,1253.6 802.4,1258.2 810.2,1262.3 818.2,1265.6 826.6,1268.3 835.1,1270.1 843.8,1271.3"/><polygon points="852.5,1251.6 859.5,1251.3 866.4,1250.4 873.2,1248.9 879.9,1246.8 886.4,1244.1 892.6,1240.9 898.5,1237.1 904.0,1232.9 909.2,1228.2 913.9,1223.0 918.1,1217.5 921.9,1211.6 925.1,1205.4 927.8,1198.9 929.9,1192.2 931.4,1185.4 932.3,1178.5 932.6,1171.5 932.3,1164.5 931.4,1157.6 929.9,1150.8 927.8,1144.1 925.1,1137.6 921.9,1131.4 918.1,1125.5 913.9,1120.0 909.2,1114.8 904.0,1110.1 898.5,1105.9 892.6,1102.1 886.4,1098.9 879.9,1096.2 873.2,1094.1 866.4,1092.6 859.5,1091.7 852.5,1091.4 845.5,1091.7 838.6,1092.6 831.8,1094.1 825.1,1096.2 818.6,1098.9 812.4,1102.1 806.5,1105.9 801.0,1110.1 795.8,1114.8 791.1,1120.0 786.9,1125.5 783.1,1131.4 779.9,1137.6 777.2,1144.1 775.1,1150.8 773.6,1157.6 772.7,1164.5 772.4,1171.5 772.7,1178.5 773.6,1185.4 775.1,1192.2 777.2,1198.9 779.9,1205.4 783.1,1211.6 786.9,1217.5 791.1,1223.0 795.8,1228.2 801.0,1232.9 806.5,1237.1 812.4,1240.9 818.6,1244.1 825.1,1246.8 831.8,1248.9 838.6,1250.4 845.5,1251.3"/><polygon points="852.5,1231.6 857.7,1231.4 862.9,1230.7 868.1,1229.6 873.1,1228.0 877.9,1226.0 882.5,1223.5 887.0,1220.7 891.1,1217.5 895.0,1214.0 898.5,1210.1 901.7,1206.0 904.5,1201.5 907.0,1196.9 909.0,1192.1 910.6,1187.1 911.7,1181.9 912.4,1176.7 912.6,1171.5 912.4,1166.3 911.7,1161.1 910.6,1155.9 909.0,1150.9 907.0,1146.1 904.5,1141.5 901.7,1137.0 898.5,1132.9 895.0,1129.0 891.1,1125.5 887.0,1122.3 882.5,1119.5 877.9,1117.0 873.1,1115.0 868.1,1113.4 862.9,1112.3 857.7,1111.6 852.5,1111.4 847.3,1111.6 842.1,1112.3 836.9,1113.4 831.9,1115.0 827.1,1117.0 822.5,1119.5 818.0,1122.3 813.9,1125.5 810.0,1129.0 806.5,1132.9 803.3,1137.0 800.5,1141.5 798.0,1146.1 796.0,1150.9 794.4,1155.9 793.3,1161.1 792.6,1166.3 792.4,1171.5 792.6,1176.7 793.3,1181.9 794.4,1187.1 796.0,1192.1 798.0,1196.9 800.5,1201.5 803.3,1206.0 806.5,1210.1 810.0,1214.0 813.9,1217.5 818.0,1220.7 822.4,1223.5 827.1,1226.0 831.9,1228.0 836.9,1229.6 842.1,1230.7 847.3,1231.4"/><polygon points="852.5,1211.6 856.0,1211.4 859.5,1211.0 862.9,1210.2 866.2,1209.2 869.4,1207.8 872.5,1206.2 875.5,1204.3 878.3,1202.2 880.8,1199.8 883.2,1197.3 885.3,1194.5 887.2,1191.5 888.8,1188.4 890.2,1185.2 891.2,1181.9 892.0,1178.5 892.4,1175.0 892.6,1171.5 892.4,1168.0 892.0,1164.5 891.2,1161.1 890.2,1157.8 888.8,1154.6 887.2,1151.5 885.3,1148.5 883.2,1145.7 880.8,1143.2 878.3,1140.8 875.5,1138.7 872.5,1136.8 869.4,1135.2 866.2,1133.8 862.9,1132.8 859.5,1132.0 856.0,1131.6 852.5,1131.4 849.0,1131.6 845.5,1132.0 842.1,1132.8 838.8,1133.8 835.6,1135.2 832.5,1136.8 829.5,1138.7 826.7,1140.8 824.2,1143.2 821.8,1145.7 819.7,1148.5 817.8,1151.5 816.2,1154.6 814.8,1157.8 813.8,1161.1 813.0,1164.5 812.6,1168.0 812.4,1171.5 812.6,1175.0 813.0,1178.5 813.8,1181.9 814.8,1185.2 816.2,1188.4 817.8,1191.5 819.7,1194.5 821.8,1197.3 824.2,1199.8 826.7,1202.2 829.5,1204.3 832.5,1206.2 835.6,1207.8 838.8,1209.2 842.1,1210.2 845.5,1211.0 849.0,1211.4"/><polygon points="852.5,1191.5 854.2,1191.5 856.0,1191.2 857.7,1190.9 859.4,1190.3 861.0,1189.7 862.5,1188.8 864.0,1187.9 865.4,1186.8 866.7,1185.7 867.8,1184.4 868.9,1183.0 869.8,1181.5 870.7,1180.0 871.3,1178.4 871.9,1176.7 872.2,1175.0 872.5,1173.2 872.5,1171.5 872.5,1169.8 872.2,1168.0 871.9,1166.3 871.3,1164.6 870.7,1163.0 869.8,1161.5 868.9,1160.0 867.8,1158.6 866.7,1157.3 865.4,1156.2 864.0,1155.1 862.5,1154.2 861.0,1153.3 859.4,1152.7 857.7,1152.1 856.0,1151.8 854.2,1151.5 852.5,1151.5 850.8,1151.5 849.0,1151.8 847.3,1152.1 845.6,1152.7 844.0,1153.3 842.5,1154.2 841.0,1155.1 839.6,1156.2 838.3,1157.3 837.2,1158.6 836.1,1160.0 835.2,1161.5 834.3,1163.0 833.7,1164.6 833.1,1166.3 832.8,1168.0 832.5,1169.8 832.5,1171.5 832.5,1173.2 832.8,1175.0 833.1,1176.7 833.7,1178.4 834.3,1180.0 835.2,1181.5 836.1,1183.0 837.2,1184.4 838.3,1185.7 839.6,1186.8 841.0,1187.9 842.5,1188.8 844.0,1189.7 845.6,1190.3 847.3,1190.9 849.0,1191.2 850.8,1191.5"/><line x1="852.50" y1="1171.50" x2="852.50" y2="1413.10"/><line x1="852.50" y1="1171.50" x2="915.03" y2="1404.87"/><line x1="852.50" y1="1171.50" x2="973.30" y2="1380.73"/><line x1="852.50" y1="1171.50" x2="1023.34" y2="1342.34"/><line x1="852.50" y1="1171.50" x2="1061.73" y2="1292.30"/><line x1="852.50" y1="1171.50" x2="1085.87" y2="1234.03"/><line x1="852.50" y1="1171.50" x2="1094.10" y2="1171.50"/><line x1="852.50" y1="1171.50" x2="1085.87" y2="1108.97"/><line x1="852.50" y1="1171.50" x2="1061.73" y2="1050.70"/><line x1="852.50" y1="1171.50" x2="1023.34" y2="1000.66"/><line x1="852.50" y1="1171.50" x2="973.30" y2="962.27"/><line x1="852.50" y1="1171.50" x2="915.03" y2="938.13"/><line x1="852.50" y1="1171.50" x2="852.50" y2="929.90"/><line x1="852.50" y1="1171.50" x2="789.97" y2="938.13"/><line x1="852.50" y1="1171.50" x2="731.70" y2="962.27"/><line x1="852.50" y1="1171.50" x2="681.66" y2="1000.66"/><line x1="852.50" y1="1171.50" x2="643.27" y2="1050.70"/><line x1="852.50" y1="1171.50" x2="619.13" y2="1108.97"/><line x1="852.50" y1="1171.50" x2="610.90" y2="1171.50"/><line x1="852.50" y1="1171.50" x2="619.13" y2="1234.03"/><line x1="852.50" y1="1171.50" x2="643.27" y2="1292.30"/><line x1="852.50" y1="1171.50" x2="681.66" y2="1342.34"/><line x1="852.50" y1="1171.50" x2="731.70" y2="1380.73"/><line x1="852.50" y1="1171.50" x2="789.97" y2="1404.87"/></g>
<g class="al"><text x="852.4" y="921.9" text-anchor="middle">180</text><text x="852.4" y="1435.9" text-anchor="middle">0</text><text x="910.4" y="930.2" text-anchor="start">165</text><text x="967.6" y="953.6" text-anchor="start">150</text><text x="1019.0" y="991.6" text-anchor="start">135</text><text x="1062.5" y="1047.2" text-anchor="start">120</text><text x="1089.7" y="1111.5" text-anchor="start">105</text><text x="1102.2" y="1178.3" text-anchor="start">90</text><text x="1094.5" y="1244.1" text-anchor="start">75</text><text x="1066.1" y="1310.0" text-anchor="start">60</text><text x="1023.5" y="1361.1" text-anchor="start">45</text><text x="972.3" y="1403.3" text-anchor="start">30</text><text x="909.5" y="1427.3" text-anchor="start">15</text><text x="793.1" y="930.2" text-anchor="end">195</text><text x="735.5" y="953.6" text-anchor="end">210</text><text x="684.6" y="991.6" text-anchor="end">225</text><text x="639.2" y="1047.2" text-anchor="end">240</text><text x="611.8" y="1111.5" text-anchor="end">255</text><text x="603.1" y="1178.3" text-anchor="end">270</text><text x="611.8" y="1244.1" text-anchor="end">285</text><text x="638.2" y="1310.0" text-anchor="end">300</text><text x="676.6" y="1361.1" text-anchor="end">315</text><text x="734.1" y="1403.3" text-anchor="end">330</text><text x="794.0" y="1427.3" text-anchor="end">345</text></g>
<polyline points="864.5,1373.5 878.1,1365.9 889.5,1356.9 896.4,1350.1 902.3,1344.1 915.0,1340.4 928.0,1337.2 931.6,1334.4 940.6,1325.3 949.8,1310.9 955.8,1297.3 958.0,1281.5 961.0,1267.2 966.3,1251.5 973.0,1239.4 979.2,1223.4 982.9,1209.1 983.6,1194.2 982.9,1179.0 981.4,1171.3 978.8,1163.3 975.0,1150.8 973.1,1141.9 971.2,1132.9 965.6,1122.3 960.4,1114.6 955.4,1107.7 948.5,1096.3 943.4,1089.3 937.7,1082.3 927.5,1073.4 923.1,1069.1 913.0,1065.0 900.9,1060.2 892.1,1057.9 882.4,1055.7 871.2,1053.6 861.0,1052.5 852.5,1051.9 837.3,1051.3 825.4,1055.1 816.4,1057.0 807.7,1058.8 794.4,1060.8 790.5,1062.0 786.7,1065.8 782.2,1072.9 772.8,1080.4 765.7,1086.2 759.4,1093.1 749.9,1102.0 742.9,1105.2 734.1,1110.1 731.6,1114.6 728.3,1122.3 726.5,1126.1 722.7,1137.4 719.5,1150.2 717.6,1157.8 715.7,1167.2 715.1,1171.3 711.9,1179.9 707.4,1192.7 705.9,1209.1 710.4,1226.6 717.2,1237.2 730.7,1249.1 742.1,1255.3 748.0,1258.8 754.9,1268.7 756.1,1280.1 756.1,1298.9 755.6,1314.7 757.5,1329.0 762.4,1341.0 770.0,1350.9 775.2,1350.9 787.9,1350.8 803.9,1343.3 816.7,1341.5 822.8,1341.6 830.2,1350.9 838.7,1359.9 849.0,1370.5 864.5,1373.5" fill="none" stroke="#000080" stroke-width="3.87" stroke-dasharray="19.35 11.61" stroke-linejoin="round"/>
<polyline points="858.5,1372.7 869.9,1374.5 876.7,1371.2 883.6,1367.7 892.6,1358.4 901.5,1347.1 908.2,1330.6 914.4,1330.2 927.2,1329.4 944.5,1331.6 957.2,1323.8 959.6,1320.0 964.0,1307.2 968.5,1289.1 971.9,1271.0 975.4,1258.8 980.7,1242.3 985.2,1223.5 987.4,1209.2 983.7,1191.1 981.4,1173.1 977.6,1161.4 971.3,1150.1 965.6,1138.7 961.1,1127.9 957.9,1115.9 953.4,1110.1 945.8,1104.4 943.3,1093.1 944.1,1084.3 936.4,1078.6 929.4,1077.2 919.3,1075.4 910.4,1070.9 900.9,1065.9 890.2,1061.4 880.1,1060.8 871.8,1062.1 861.0,1058.2 852.5,1057.6 840.5,1055.1 829.0,1059.1 822.9,1056.9 814.0,1054.4 808.3,1055.7 801.2,1058.9 795.6,1064.5 790.5,1076.0 787.4,1080.2 779.0,1083.3 772.0,1091.9 764.5,1100.7 754.4,1108.0 748.0,1110.2 740.4,1115.3 732.9,1124.1 728.4,1133.6 726.3,1145.6 724.0,1153.9 722.0,1164.0 720.1,1171.3 718.7,1182.0 717.2,1194.1 715.7,1212.3 715.0,1231.9 717.9,1244.6 721.7,1251.3 732.3,1262.0 743.6,1270.3 750.3,1280.0 753.4,1299.7 757.2,1317.1 761.6,1329.0 768.4,1337.3 773.1,1342.6 783.6,1345.6 792.5,1346.6 805.4,1344.8 818.1,1350.1 828.6,1358.4 837.7,1364.4 849.0,1371.2 858.5,1372.7" fill="none" stroke="#ff00ff" stroke-width="3.87" stroke-dasharray="38.70 11.61" stroke-linejoin="round"/>
<polyline points="866.0,1365.2 885.0,1347.1 909.6,1337.3 935.5,1329.0 949.3,1308.7 961.0,1284.6 979.9,1267.2 988.2,1241.5 987.4,1214.5 984.4,1187.5 982.4,1171.3 982.0,1161.5 975.7,1135.5 964.3,1111.5 950.3,1088.6 929.4,1071.3 909.3,1055.1 882.7,1049.4 854.7,1046.2 852.5,1045.6 834.2,1046.0 808.7,1054.5 784.1,1064.6 763.0,1081.4 744.3,1100.7 728.4,1121.6 721.7,1147.0 716.5,1172.9 704.9,1197.3 695.9,1222.1 698.4,1248.3 716.8,1267.2 735.0,1285.4 744.0,1309.9 764.2,1327.5 789.5,1329.8 812.9,1324.5 822.6,1350.1 840.4,1368.9 866.0,1365.2" fill="none" stroke="#ff0000" stroke-width="3.87" stroke-dasharray="7.74 19.35" stroke-linejoin="round"/>
<polyline points="858.7,1369.7 866.2,1367.4 873.6,1365.9 881.1,1365.2 888.7,1364.7 896.3,1364.4 903.8,1364.4 911.3,1363.7 919.6,1362.2 927.0,1360.7 934.5,1359.2 942.1,1356.9 949.0,1354.6 956.5,1351.6 962.6,1347.0 968.7,1342.5 973.2,1335.8 977.0,1329.7 980.6,1323.0 983.6,1315.5 985.9,1308.7 987.8,1301.2 989.6,1293.7 992.6,1286.2 995.0,1279.3 997.9,1271.8 1000.3,1264.2 1003.0,1257.3 1004.8,1249.8 1007.8,1242.3 1010.0,1234.8 1011.5,1228.1 1013.5,1220.4 1015.0,1212.9 1016.0,1204.8 1016.8,1197.2 1017.2,1190.3 1017.6,1182.2 1017.9,1174.7 1017.5,1167.8 1017.5,1160.2 1016.9,1151.9 1015.9,1144.5 1014.3,1137.4 1012.4,1129.8 1009.9,1122.2 1007.3,1114.5 1004.2,1107.7 1001.0,1100.7 997.2,1094.3 993.5,1087.5 990.2,1080.4 986.5,1074.2 981.3,1068.3 976.3,1062.0 971.2,1055.6 966.8,1050.6 961.0,1044.9 954.8,1040.5 948.5,1035.5 942.7,1031.0 936.5,1026.6 929.6,1023.5 921.8,1020.2 914.3,1017.7 906.6,1015.2 899.7,1013.3 892.6,1012.0 886.4,1010.8 878.7,1009.5 869.9,1008.6 861.1,1008.0 852.5,1007.6 843.1,1008.0 835.4,1008.5 828.0,1009.2 820.2,1010.1 812.6,1011.4 805.0,1013.3 798.1,1016.1 791.2,1019.0 784.2,1021.5 777.1,1025.3 770.3,1029.1 763.1,1032.3 756.3,1036.1 749.9,1040.6 743.5,1045.7 738.0,1051.2 733.4,1056.5 729.0,1061.5 724.6,1067.2 720.1,1072.8 715.7,1079.2 711.4,1086.0 707.5,1093.1 703.9,1100.0 700.5,1107.0 697.3,1114.1 694.6,1121.7 692.1,1129.1 689.7,1136.3 687.8,1144.5 686.5,1154.1 685.3,1164.2 684.8,1171.2 683.8,1182.1 682.5,1194.2 682.2,1206.1 682.3,1218.4 682.5,1228.7 684.1,1237.8 687.1,1246.9 690.9,1254.6 696.1,1261.8 702.2,1268.7 707.4,1275.4 711.2,1282.3 713.9,1289.1 715.5,1296.6 716.5,1304.2 719.5,1310.2 724.0,1316.2 730.1,1321.6 736.7,1325.1 743.0,1329.1 745.8,1335.8 749.7,1343.3 753.5,1350.9 757.2,1356.9 760.8,1363.6 766.8,1365.9 776.1,1367.5 785.0,1368.6 794.0,1370.2 803.1,1372.7 812.1,1375.7 820.4,1376.7 828.8,1376.2 836.1,1375.0 843.7,1373.8 858.7,1369.7" fill="none" stroke="#008000" stroke-width="3.87" stroke-dasharray="3.87 3.87" stroke-linejoin="round"/>
<g class="rl"><text x="852.4" y="940.0" text-anchor="middle">6</text><text x="852.4" y="977.4" text-anchor="middle">0</text><text x="852.4" y="1017.5" text-anchor="middle">-6</text><text x="852.4" y="1057.5" text-anchor="middle">-12</text><text x="852.4" y="1097.6" text-anchor="middle">-18</text><text x="852.4" y="1137.7" text-anchor="middle">-24</text><text x="852.4" y="1177.7" text-anchor="middle">-30</text></g>
<text class="tt" x="852.6" y="805.9" text-anchor="middle">axis normalized vertical polar diagrams</text>
<line x1="705.8" y1="826.5" x2="951.1" y2="826.5" stroke="#000080" stroke-width="3.87" stroke-dasharray="19.35 11.61"/><text class="lt" x="998.7" y="832.9" text-anchor="end">4000</text><line x1="705.8" y1="848.2" x2="951.1" y2="848.2" stroke="#ff00ff" stroke-width="3.87" stroke-dasharray="38.70 11.61"/><text class="lt" x="998.7" y="854.6" text-anchor="end">5000</text><line x1="705.8" y1="868.8" x2="951.1" y2="868.8" stroke="#ff0000" stroke-width="3.87" stroke-dasharray="7.74 19.35"/><text class="lt" x="998.7" y="875.2" text-anchor="end">6300</text><line x1="705.8" y1="889.2" x2="951.1" y2="889.2" stroke="#008000" stroke-width="3.87" stroke-dasharray="3.87 3.87"/><text class="lt" x="998.7" y="895.6" text-anchor="end">8000</text>
<g fill="none" stroke="#000" stroke-width="1.08"><polygon points="1426.0,1411.5 1446.9,1410.6 1467.7,1407.9 1488.1,1403.3 1508.1,1397.0 1527.4,1389.0 1546.0,1379.3 1563.7,1368.1 1580.3,1355.4 1595.7,1341.2 1609.9,1325.8 1622.6,1309.2 1633.8,1291.5 1643.5,1272.9 1651.5,1253.6 1657.8,1233.6 1662.4,1213.2 1665.1,1192.4 1666.0,1171.5 1665.1,1150.6 1662.4,1129.8 1657.8,1109.4 1651.5,1089.4 1643.5,1070.1 1633.8,1051.5 1622.6,1033.8 1609.9,1017.2 1595.7,1001.8 1580.3,987.6 1563.7,974.9 1546.0,963.7 1527.4,954.0 1508.1,946.0 1488.1,939.7 1467.7,935.1 1446.9,932.4 1426.0,931.5 1405.1,932.4 1384.3,935.1 1363.9,939.7 1343.9,946.0 1324.6,954.0 1306.0,963.7 1288.3,974.9 1271.7,987.6 1256.3,1001.8 1242.1,1017.2 1229.4,1033.8 1218.2,1051.5 1208.5,1070.1 1200.5,1089.4 1194.2,1109.4 1189.6,1129.8 1186.9,1150.6 1186.0,1171.5 1186.9,1192.4 1189.6,1213.2 1194.2,1233.6 1200.5,1253.6 1208.5,1272.9 1218.2,1291.5 1229.4,1309.2 1242.1,1325.8 1256.3,1341.2 1271.7,1355.4 1288.3,1368.1 1306.0,1379.3 1324.6,1389.0 1343.9,1397.0 1363.9,1403.3 1384.3,1407.9 1405.1,1410.6"/><polygon points="1426.0,1391.5 1445.2,1390.7 1464.2,1388.2 1482.9,1384.0 1501.2,1378.2 1519.0,1370.9 1536.0,1362.0 1552.2,1351.7 1567.4,1340.0 1581.6,1327.1 1594.5,1312.9 1606.2,1297.7 1616.5,1281.5 1625.4,1264.5 1632.7,1246.7 1638.5,1228.4 1642.7,1209.7 1645.2,1190.7 1646.0,1171.5 1645.2,1152.3 1642.7,1133.3 1638.5,1114.6 1632.7,1096.3 1625.4,1078.5 1616.5,1061.5 1606.2,1045.3 1594.5,1030.1 1581.6,1015.9 1567.4,1003.0 1552.2,991.3 1536.0,981.0 1519.0,972.1 1501.2,964.8 1482.9,959.0 1464.2,954.8 1445.2,952.3 1426.0,951.5 1406.8,952.3 1387.8,954.8 1369.1,959.0 1350.8,964.8 1333.0,972.1 1316.0,981.0 1299.8,991.3 1284.6,1003.0 1270.4,1015.9 1257.5,1030.1 1245.8,1045.3 1235.5,1061.5 1226.6,1078.5 1219.3,1096.3 1213.5,1114.6 1209.3,1133.3 1206.8,1152.3 1206.0,1171.5 1206.8,1190.7 1209.3,1209.7 1213.5,1228.4 1219.3,1246.7 1226.6,1264.5 1235.5,1281.5 1245.8,1297.7 1257.5,1312.9 1270.4,1327.1 1284.6,1340.0 1299.8,1351.7 1316.0,1362.0 1333.0,1370.9 1350.8,1378.2 1369.1,1384.0 1387.8,1388.2 1406.8,1390.7"/><polygon points="1426.0,1371.5 1443.4,1370.7 1460.7,1368.5 1477.8,1364.7 1494.4,1359.4 1510.5,1352.8 1526.0,1344.7 1540.7,1335.3 1554.6,1324.7 1567.4,1312.9 1579.2,1300.1 1589.8,1286.2 1599.2,1271.5 1607.3,1256.0 1613.9,1239.9 1619.2,1223.3 1623.0,1206.2 1625.2,1188.9 1626.0,1171.5 1625.2,1154.1 1623.0,1136.8 1619.2,1119.7 1613.9,1103.1 1607.3,1087.0 1599.2,1071.5 1589.8,1056.8 1579.2,1042.9 1567.4,1030.1 1554.6,1018.3 1540.7,1007.7 1526.0,998.3 1510.5,990.2 1494.4,983.6 1477.8,978.3 1460.7,974.5 1443.4,972.3 1426.0,971.5 1408.6,972.3 1391.3,974.5 1374.2,978.3 1357.6,983.6 1341.5,990.2 1326.0,998.3 1311.3,1007.7 1297.4,1018.3 1284.6,1030.1 1272.8,1042.9 1262.2,1056.8 1252.8,1071.5 1244.7,1087.0 1238.1,1103.1 1232.8,1119.7 1229.0,1136.8 1226.8,1154.1 1226.0,1171.5 1226.8,1188.9 1229.0,1206.2 1232.8,1223.3 1238.1,1239.9 1244.7,1256.0 1252.8,1271.5 1262.2,1286.2 1272.8,1300.1 1284.6,1312.9 1297.4,1324.7 1311.3,1335.3 1326.0,1344.7 1341.5,1352.8 1357.6,1359.4 1374.2,1364.7 1391.3,1368.5 1408.6,1370.7"/><polygon points="1426.0,1351.5 1441.7,1350.8 1457.3,1348.8 1472.6,1345.4 1487.6,1340.6 1502.1,1334.6 1516.0,1327.4 1529.2,1318.9 1541.7,1309.4 1553.3,1298.8 1563.9,1287.2 1573.4,1274.7 1581.9,1261.5 1589.1,1247.6 1595.1,1233.1 1599.9,1218.1 1603.3,1202.8 1605.3,1187.2 1606.0,1171.5 1605.3,1155.8 1603.3,1140.2 1599.9,1124.9 1595.1,1109.9 1589.1,1095.4 1581.9,1081.5 1573.4,1068.3 1563.9,1055.8 1553.3,1044.2 1541.7,1033.6 1529.2,1024.1 1516.0,1015.6 1502.1,1008.4 1487.6,1002.4 1472.6,997.6 1457.3,994.2 1441.7,992.2 1426.0,991.5 1410.3,992.2 1394.7,994.2 1379.4,997.6 1364.4,1002.4 1349.9,1008.4 1336.0,1015.6 1322.8,1024.1 1310.3,1033.6 1298.7,1044.2 1288.1,1055.8 1278.6,1068.3 1270.1,1081.5 1262.9,1095.4 1256.9,1109.9 1252.1,1124.9 1248.7,1140.2 1246.7,1155.8 1246.0,1171.5 1246.7,1187.2 1248.7,1202.8 1252.1,1218.1 1256.9,1233.1 1262.9,1247.6 1270.1,1261.5 1278.6,1274.7 1288.1,1287.2 1298.7,1298.8 1310.3,1309.4 1322.8,1318.9 1336.0,1327.4 1349.9,1334.6 1364.4,1340.6 1379.4,1345.4 1394.7,1348.8 1410.3,1350.8"/><polygon points="1426.0,1331.5 1439.9,1330.9 1453.8,1329.1 1467.4,1326.0 1480.7,1321.9 1493.6,1316.5 1506.0,1310.1 1517.8,1302.6 1528.8,1294.1 1539.1,1284.6 1548.6,1274.3 1557.1,1263.3 1564.6,1251.5 1571.0,1239.1 1576.4,1226.2 1580.5,1212.9 1583.6,1199.3 1585.4,1185.4 1586.0,1171.5 1585.4,1157.6 1583.6,1143.7 1580.5,1130.1 1576.4,1116.8 1571.0,1103.9 1564.6,1091.5 1557.1,1079.7 1548.6,1068.7 1539.1,1058.4 1528.8,1048.9 1517.8,1040.4 1506.0,1032.9 1493.6,1026.5 1480.7,1021.1 1467.4,1017.0 1453.8,1013.9 1439.9,1012.1 1426.0,1011.5 1412.1,1012.1 1398.2,1013.9 1384.6,1017.0 1371.3,1021.1 1358.4,1026.5 1346.0,1032.9 1334.2,1040.4 1323.2,1048.9 1312.9,1058.4 1303.4,1068.7 1294.9,1079.7 1287.4,1091.5 1281.0,1103.9 1275.6,1116.8 1271.5,1130.1 1268.4,1143.7 1266.6,1157.6 1266.0,1171.5 1266.6,1185.4 1268.4,1199.3 1271.5,1212.9 1275.6,1226.2 1281.0,1239.1 1287.4,1251.5 1294.9,1263.3 1303.4,1274.3 1312.9,1284.6 1323.2,1294.1 1334.2,1302.6 1346.0,1310.1 1358.4,1316.5 1371.3,1321.9 1384.6,1326.0 1398.2,1329.1 1412.1,1330.9"/><polygon points="1426.0,1311.5 1438.2,1311.0 1450.3,1309.4 1462.2,1306.7 1473.9,1303.1 1485.2,1298.4 1496.0,1292.7 1506.3,1286.2 1516.0,1278.7 1525.0,1270.5 1533.2,1261.5 1540.7,1251.8 1547.2,1241.5 1552.9,1230.7 1557.6,1219.4 1561.2,1207.7 1563.9,1195.8 1565.5,1183.7 1566.0,1171.5 1565.5,1159.3 1563.9,1147.2 1561.2,1135.3 1557.6,1123.6 1552.9,1112.3 1547.2,1101.5 1540.7,1091.2 1533.2,1081.5 1525.0,1072.5 1516.0,1064.3 1506.3,1056.8 1496.0,1050.3 1485.2,1044.6 1473.9,1039.9 1462.2,1036.3 1450.3,1033.6 1438.2,1032.0 1426.0,1031.5 1413.8,1032.0 1401.7,1033.6 1389.8,1036.3 1378.1,1039.9 1366.8,1044.6 1356.0,1050.3 1345.7,1056.8 1336.0,1064.3 1327.0,1072.5 1318.8,1081.5 1311.3,1091.2 1304.8,1101.5 1299.1,1112.3 1294.4,1123.6 1290.8,1135.3 1288.1,1147.2 1286.5,1159.3 1286.0,1171.5 1286.5,1183.7 1288.1,1195.8 1290.8,1207.7 1294.4,1219.4 1299.1,1230.7 1304.8,1241.5 1311.3,1251.8 1318.8,1261.5 1327.0,1270.5 1336.0,1278.7 1345.7,1286.2 1356.0,1292.7 1366.8,1298.4 1378.1,1303.1 1389.8,1306.7 1401.7,1309.4 1413.8,1311.0"/><polygon points="1426.0,1291.5 1436.5,1291.0 1446.8,1289.7 1457.1,1287.4 1467.0,1284.3 1476.7,1280.3 1486.0,1275.4 1494.8,1269.8 1503.1,1263.4 1510.9,1256.4 1517.9,1248.6 1524.3,1240.3 1529.9,1231.5 1534.8,1222.2 1538.8,1212.5 1541.9,1202.6 1544.2,1192.3 1545.5,1182.0 1546.0,1171.5 1545.5,1161.0 1544.2,1150.7 1541.9,1140.4 1538.8,1130.5 1534.8,1120.8 1529.9,1111.5 1524.3,1102.7 1517.9,1094.4 1510.9,1086.6 1503.1,1079.6 1494.8,1073.2 1486.0,1067.6 1476.7,1062.7 1467.0,1058.7 1457.1,1055.6 1446.8,1053.3 1436.5,1052.0 1426.0,1051.5 1415.5,1052.0 1405.2,1053.3 1394.9,1055.6 1385.0,1058.7 1375.3,1062.7 1366.0,1067.6 1357.2,1073.2 1348.9,1079.6 1341.1,1086.6 1334.1,1094.4 1327.7,1102.7 1322.1,1111.5 1317.2,1120.8 1313.2,1130.5 1310.1,1140.4 1307.8,1150.7 1306.5,1161.0 1306.0,1171.5 1306.5,1182.0 1307.8,1192.3 1310.1,1202.6 1313.2,1212.5 1317.2,1222.2 1322.1,1231.5 1327.7,1240.3 1334.1,1248.6 1341.1,1256.4 1348.9,1263.4 1357.2,1269.8 1366.0,1275.4 1375.3,1280.3 1385.0,1284.3 1394.9,1287.4 1405.2,1289.7 1415.5,1291.0"/><polygon points="1426.0,1271.5 1434.7,1271.1 1443.4,1270.0 1451.9,1268.1 1460.2,1265.5 1468.3,1262.1 1476.0,1258.1 1483.4,1253.4 1490.3,1248.1 1496.7,1242.2 1502.6,1235.8 1507.9,1228.9 1512.6,1221.5 1516.6,1213.8 1520.0,1205.7 1522.6,1197.4 1524.5,1188.9 1525.6,1180.2 1526.0,1171.5 1525.6,1162.8 1524.5,1154.1 1522.6,1145.6 1520.0,1137.3 1516.6,1129.2 1512.6,1121.5 1507.9,1114.1 1502.6,1107.2 1496.7,1100.8 1490.3,1094.9 1483.4,1089.6 1476.0,1084.9 1468.3,1080.9 1460.2,1077.5 1451.9,1074.9 1443.4,1073.0 1434.7,1071.9 1426.0,1071.5 1417.3,1071.9 1408.6,1073.0 1400.1,1074.9 1391.8,1077.5 1383.7,1080.9 1376.0,1084.9 1368.6,1089.6 1361.7,1094.9 1355.3,1100.8 1349.4,1107.2 1344.1,1114.1 1339.4,1121.5 1335.4,1129.2 1332.0,1137.3 1329.4,1145.6 1327.5,1154.1 1326.4,1162.8 1326.0,1171.5 1326.4,1180.2 1327.5,1188.9 1329.4,1197.4 1332.0,1205.7 1335.4,1213.8 1339.4,1221.5 1344.1,1228.9 1349.4,1235.8 1355.3,1242.2 1361.7,1248.1 1368.6,1253.4 1376.0,1258.1 1383.7,1262.1 1391.8,1265.5 1400.1,1268.1 1408.6,1270.0 1417.3,1271.1"/><polygon points="1426.0,1251.5 1433.0,1251.2 1439.9,1250.3 1446.7,1248.8 1453.4,1246.7 1459.8,1244.0 1466.0,1240.8 1471.9,1237.0 1477.4,1232.8 1482.6,1228.1 1487.3,1222.9 1491.5,1217.4 1495.3,1211.5 1498.5,1205.3 1501.2,1198.9 1503.3,1192.2 1504.8,1185.4 1505.7,1178.5 1506.0,1171.5 1505.7,1164.5 1504.8,1157.6 1503.3,1150.8 1501.2,1144.1 1498.5,1137.7 1495.3,1131.5 1491.5,1125.6 1487.3,1120.1 1482.6,1114.9 1477.4,1110.2 1471.9,1106.0 1466.0,1102.2 1459.8,1099.0 1453.4,1096.3 1446.7,1094.2 1439.9,1092.7 1433.0,1091.8 1426.0,1091.5 1419.0,1091.8 1412.1,1092.7 1405.3,1094.2 1398.6,1096.3 1392.2,1099.0 1386.0,1102.2 1380.1,1106.0 1374.6,1110.2 1369.4,1114.9 1364.7,1120.1 1360.5,1125.6 1356.7,1131.5 1353.5,1137.7 1350.8,1144.1 1348.7,1150.8 1347.2,1157.6 1346.3,1164.5 1346.0,1171.5 1346.3,1178.5 1347.2,1185.4 1348.7,1192.2 1350.8,1198.9 1353.5,1205.3 1356.7,1211.5 1360.5,1217.4 1364.7,1222.9 1369.4,1228.1 1374.6,1232.8 1380.1,1237.0 1386.0,1240.8 1392.2,1244.0 1398.6,1246.7 1405.3,1248.8 1412.1,1250.3 1419.0,1251.2"/><polygon points="1426.0,1231.5 1431.2,1231.3 1436.4,1230.6 1441.5,1229.5 1446.5,1227.9 1451.4,1225.9 1456.0,1223.5 1460.4,1220.6 1464.6,1217.5 1468.4,1213.9 1472.0,1210.1 1475.1,1205.9 1478.0,1201.5 1480.4,1196.9 1482.4,1192.0 1484.0,1187.0 1485.1,1181.9 1485.8,1176.7 1486.0,1171.5 1485.8,1166.3 1485.1,1161.1 1484.0,1156.0 1482.4,1151.0 1480.4,1146.1 1478.0,1141.5 1475.1,1137.1 1472.0,1132.9 1468.4,1129.1 1464.6,1125.5 1460.4,1122.4 1456.0,1119.5 1451.4,1117.1 1446.5,1115.1 1441.5,1113.5 1436.4,1112.4 1431.2,1111.7 1426.0,1111.5 1420.8,1111.7 1415.6,1112.4 1410.5,1113.5 1405.5,1115.1 1400.6,1117.1 1396.0,1119.5 1391.6,1122.4 1387.4,1125.5 1383.6,1129.1 1380.0,1132.9 1376.9,1137.1 1374.0,1141.5 1371.6,1146.1 1369.6,1151.0 1368.0,1156.0 1366.9,1161.1 1366.2,1166.3 1366.0,1171.5 1366.2,1176.7 1366.9,1181.9 1368.0,1187.0 1369.6,1192.0 1371.6,1196.9 1374.0,1201.5 1376.9,1205.9 1380.0,1210.1 1383.6,1213.9 1387.4,1217.5 1391.6,1220.6 1396.0,1223.5 1400.6,1225.9 1405.5,1227.9 1410.5,1229.5 1415.6,1230.6 1420.8,1231.3"/><polygon points="1426.0,1211.5 1429.5,1211.3 1432.9,1210.9 1436.4,1210.1 1439.7,1209.1 1442.9,1207.8 1446.0,1206.1 1448.9,1204.3 1451.7,1202.1 1454.3,1199.8 1456.6,1197.2 1458.8,1194.4 1460.6,1191.5 1462.3,1188.4 1463.6,1185.2 1464.6,1181.9 1465.4,1178.4 1465.8,1175.0 1466.0,1171.5 1465.8,1168.0 1465.4,1164.6 1464.6,1161.1 1463.6,1157.8 1462.3,1154.6 1460.6,1151.5 1458.8,1148.6 1456.6,1145.8 1454.3,1143.2 1451.7,1140.9 1448.9,1138.7 1446.0,1136.9 1442.9,1135.2 1439.7,1133.9 1436.4,1132.9 1432.9,1132.1 1429.5,1131.7 1426.0,1131.5 1422.5,1131.7 1419.1,1132.1 1415.6,1132.9 1412.3,1133.9 1409.1,1135.2 1406.0,1136.9 1403.1,1138.7 1400.3,1140.9 1397.7,1143.2 1395.4,1145.8 1393.2,1148.6 1391.4,1151.5 1389.7,1154.6 1388.4,1157.8 1387.4,1161.1 1386.6,1164.6 1386.2,1168.0 1386.0,1171.5 1386.2,1175.0 1386.6,1178.4 1387.4,1181.9 1388.4,1185.2 1389.7,1188.4 1391.4,1191.5 1393.2,1194.4 1395.4,1197.2 1397.7,1199.8 1400.3,1202.1 1403.1,1204.3 1406.0,1206.1 1409.1,1207.8 1412.3,1209.1 1415.6,1210.1 1419.1,1210.9 1422.5,1211.3"/><polygon points="1426.0,1191.5 1427.7,1191.4 1429.5,1191.2 1431.2,1190.8 1432.8,1190.3 1434.5,1189.6 1436.0,1188.8 1437.5,1187.9 1438.9,1186.8 1440.1,1185.6 1441.3,1184.4 1442.4,1183.0 1443.3,1181.5 1444.1,1180.0 1444.8,1178.3 1445.3,1176.7 1445.7,1175.0 1445.9,1173.2 1446.0,1171.5 1445.9,1169.8 1445.7,1168.0 1445.3,1166.3 1444.8,1164.7 1444.1,1163.0 1443.3,1161.5 1442.4,1160.0 1441.3,1158.6 1440.1,1157.4 1438.9,1156.2 1437.5,1155.1 1436.0,1154.2 1434.5,1153.4 1432.8,1152.7 1431.2,1152.2 1429.5,1151.8 1427.7,1151.6 1426.0,1151.5 1424.3,1151.6 1422.5,1151.8 1420.8,1152.2 1419.2,1152.7 1417.5,1153.4 1416.0,1154.2 1414.5,1155.1 1413.1,1156.2 1411.9,1157.4 1410.7,1158.6 1409.6,1160.0 1408.7,1161.5 1407.9,1163.0 1407.2,1164.7 1406.7,1166.3 1406.3,1168.0 1406.1,1169.8 1406.0,1171.5 1406.1,1173.2 1406.3,1175.0 1406.7,1176.7 1407.2,1178.3 1407.9,1180.0 1408.7,1181.5 1409.6,1183.0 1410.7,1184.4 1411.9,1185.6 1413.1,1186.8 1414.5,1187.9 1416.0,1188.8 1417.5,1189.6 1419.2,1190.3 1420.8,1190.8 1422.5,1191.2 1424.3,1191.4"/><line x1="1426.00" y1="1171.50" x2="1426.00" y2="1412.70"/><line x1="1426.00" y1="1171.50" x2="1488.43" y2="1404.48"/><line x1="1426.00" y1="1171.50" x2="1546.60" y2="1380.39"/><line x1="1426.00" y1="1171.50" x2="1596.55" y2="1342.05"/><line x1="1426.00" y1="1171.50" x2="1634.89" y2="1292.10"/><line x1="1426.00" y1="1171.50" x2="1658.98" y2="1233.93"/><line x1="1426.00" y1="1171.50" x2="1667.20" y2="1171.50"/><line x1="1426.00" y1="1171.50" x2="1658.98" y2="1109.07"/><line x1="1426.00" y1="1171.50" x2="1634.89" y2="1050.90"/><line x1="1426.00" y1="1171.50" x2="1596.55" y2="1000.95"/><line x1="1426.00" y1="1171.50" x2="1546.60" y2="962.61"/><line x1="1426.00" y1="1171.50" x2="1488.43" y2="938.52"/><line x1="1426.00" y1="1171.50" x2="1426.00" y2="930.30"/><line x1="1426.00" y1="1171.50" x2="1363.57" y2="938.52"/><line x1="1426.00" y1="1171.50" x2="1305.40" y2="962.61"/><line x1="1426.00" y1="1171.50" x2="1255.45" y2="1000.95"/><line x1="1426.00" y1="1171.50" x2="1217.11" y2="1050.90"/><line x1="1426.00" y1="1171.50" x2="1193.02" y2="1109.07"/><line x1="1426.00" y1="1171.50" x2="1184.80" y2="1171.50"/><line x1="1426.00" y1="1171.50" x2="1193.02" y2="1233.93"/><line x1="1426.00" y1="1171.50" x2="1217.11" y2="1292.10"/><line x1="1426.00" y1="1171.50" x2="1255.45" y2="1342.05"/><line x1="1426.00" y1="1171.50" x2="1305.40" y2="1380.39"/><line x1="1426.00" y1="1171.50" x2="1363.57" y2="1404.48"/></g>
<g class="al"><text x="1426.4" y="921.5" text-anchor="middle">180</text><text x="1426.4" y="1435.5" text-anchor="middle">0</text><text x="1484.4" y="929.8" text-anchor="start">165</text><text x="1541.6" y="953.2" text-anchor="start">150</text><text x="1593.0" y="991.2" text-anchor="start">135</text><text x="1636.5" y="1046.8" text-anchor="start">120</text><text x="1663.7" y="1111.1" text-anchor="start">105</text><text x="1676.2" y="1177.9" text-anchor="start">90</text><text x="1668.5" y="1243.7" text-anchor="start">75</text><text x="1640.1" y="1309.6" text-anchor="start">60</text><text x="1597.5" y="1360.7" text-anchor="start">45</text><text x="1546.3" y="1402.9" text-anchor="start">30</text><text x="1483.5" y="1426.9" text-anchor="start">15</text><text x="1367.1" y="929.8" text-anchor="end">195</text><text x="1309.5" y="953.2" text-anchor="end">210</text><text x="1258.6" y="991.2" text-anchor="end">225</text><text x="1213.2" y="1046.8" text-anchor="end">240</text><text x="1185.8" y="1111.1" text-anchor="end">255</text><text x="1177.1" y="1177.9" text-anchor="end">270</text><text x="1185.8" y="1243.7" text-anchor="end">285</text><text x="1212.2" y="1309.6" text-anchor="end">300</text><text x="1250.6" y="1360.7" text-anchor="end">315</text><text x="1308.1" y="1402.9" text-anchor="end">330</text><text x="1368.0" y="1426.9" text-anchor="end">345</text></g>
<polyline points="1426.3,1332.4 1439.7,1335.2 1452.9,1339.3 1470.1,1338.5 1482.5,1332.7 1498.0,1324.5 1508.9,1316.2 1519.6,1302.2 1526.1,1291.6 1532.6,1278.5 1539.3,1261.9 1545.7,1248.1 1548.3,1234.1 1550.7,1217.6 1554.0,1204.4 1554.8,1188.0 1554.3,1174.0 1554.3,1171.3 1553.2,1156.6 1550.7,1143.4 1545.8,1127.0 1540.0,1114.7 1531.8,1099.9 1523.6,1088.4 1511.2,1076.8 1502.2,1067.0 1485.7,1058.7 1474.3,1053.8 1457.0,1048.9 1444.6,1045.6 1424.0,1044.4 1411.8,1045.1 1393.7,1048.4 1381.5,1053.0 1364.2,1060.4 1354.2,1067.5 1339.4,1077.7 1331.2,1086.8 1319.8,1101.4 1313.1,1113.0 1306.5,1128.7 1300.8,1145.1 1299.2,1158.2 1298.3,1171.3 1297.8,1189.7 1298.3,1202.9 1302.4,1219.2 1306.5,1232.4 1308.2,1248.9 1309.1,1262.9 1313.2,1280.1 1322.2,1287.5 1337.0,1298.2 1341.9,1311.4 1354.1,1323.6 1365.1,1331.9 1382.2,1336.0 1393.7,1328.6 1397.7,1327.0 1409.2,1331.1 1426.3,1332.4" fill="none" stroke="#000080" stroke-width="3.87" stroke-dasharray="19.35 11.61" stroke-linejoin="round"/>
<polyline points="1426.3,1332.4 1440.4,1333.1 1452.0,1337.7 1459.4,1338.5 1471.9,1335.9 1486.6,1326.1 1500.6,1311.3 1507.9,1301.5 1524.4,1287.5 1534.2,1276.0 1539.2,1262.8 1544.1,1245.6 1545.8,1226.6 1547.4,1212.6 1550.7,1196.2 1551.1,1177.4 1551.1,1171.3 1551.5,1163.2 1547.4,1145.0 1541.7,1128.7 1536.7,1116.3 1527.8,1100.8 1516.2,1086.8 1506.4,1077.7 1491.6,1066.2 1475.0,1058.2 1463.5,1053.3 1442.2,1048.4 1420.8,1047.7 1406.1,1050.1 1392.9,1053.8 1374.7,1060.4 1359.2,1068.2 1349.3,1076.1 1335.3,1087.5 1323.0,1102.3 1316.4,1112.2 1307.4,1130.2 1303.2,1147.6 1300.8,1159.9 1300.0,1171.3 1300.0,1196.2 1303.3,1209.5 1309.1,1227.5 1314.8,1244.8 1315.5,1257.8 1320.5,1275.9 1330.4,1285.9 1332.1,1290.0 1334.6,1301.5 1345.2,1309.7 1356.7,1316.2 1364.2,1325.3 1373.2,1331.1 1382.9,1331.1 1397.0,1334.3 1410.1,1333.5 1426.3,1332.4" fill="none" stroke="#ff00ff" stroke-width="3.87" stroke-dasharray="38.70 11.61" stroke-linejoin="round"/>
<polyline points="1426.3,1332.4 1445.8,1323.7 1468.6,1310.0 1491.5,1295.8 1503.8,1272.2 1510.4,1246.4 1520.9,1222.1 1529.0,1196.2 1532.2,1168.9 1528.5,1143.5 1518.6,1118.5 1502.7,1096.6 1481.3,1080.1 1456.2,1069.5 1429.1,1066.5 1404.4,1069.0 1378.4,1076.9 1355.9,1090.5 1338.9,1111.9 1327.1,1134.9 1319.7,1161.5 1318.9,1171.3 1320.2,1188.1 1327.1,1213.5 1334.8,1239.2 1341.0,1265.2 1354.7,1287.9 1375.7,1303.9 1397.0,1319.2 1420.1,1331.4 1426.3,1332.4" fill="none" stroke="#ff0000" stroke-width="3.87" stroke-dasharray="7.74 19.35" stroke-linejoin="round"/>
<polyline points="1426.3,1332.4 1433.3,1331.9 1439.6,1330.3 1446.2,1327.0 1452.0,1322.0 1458.5,1317.1 1464.5,1312.1 1470.9,1308.0 1476.8,1303.1 1482.5,1297.3 1488.2,1291.6 1493.6,1285.8 1496.5,1280.1 1498.9,1271.9 1501.0,1264.5 1503.0,1257.9 1506.4,1250.5 1508.8,1244.0 1512.0,1236.6 1515.4,1228.2 1518.6,1221.8 1521.9,1214.4 1524.4,1206.9 1526.9,1200.4 1529.0,1193.0 1530.7,1185.5 1531.3,1178.1 1531.3,1171.3 1530.7,1163.3 1529.3,1154.9 1527.7,1146.7 1525.2,1139.3 1522.7,1132.8 1519.5,1125.3 1515.4,1118.9 1512.0,1112.1 1508.0,1106.5 1503.0,1100.7 1498.1,1095.8 1491.5,1090.0 1485.8,1085.1 1479.1,1080.6 1472.6,1077.3 1465.2,1074.4 1457.9,1072.8 1450.4,1070.7 1443.0,1069.1 1435.6,1068.1 1427.5,1067.5 1419.1,1068.1 1411.8,1069.1 1403.6,1070.3 1396.1,1072.0 1388.7,1074.4 1381.4,1077.7 1375.6,1080.2 1369.9,1083.4 1363.2,1087.6 1356.8,1093.3 1351.7,1097.5 1346.1,1103.9 1341.9,1109.7 1336.9,1117.1 1333.7,1123.7 1329.6,1132.0 1326.3,1141.8 1324.7,1151.6 1323.0,1161.6 1322.5,1171.3 1322.2,1178.2 1323.0,1186.3 1324.6,1196.2 1327.1,1206.1 1330.3,1215.9 1334.5,1225.8 1338.7,1234.9 1341.9,1242.3 1345.3,1250.6 1347.7,1257.9 1350.1,1265.3 1352.5,1272.6 1355.8,1280.0 1358.4,1285.9 1363.3,1290.9 1368.2,1296.5 1372.3,1302.3 1375.7,1309.7 1381.4,1313.8 1387.9,1317.9 1395.4,1320.4 1402.7,1325.3 1409.4,1329.4 1417.6,1331.4 1426.3,1332.4" fill="none" stroke="#008000" stroke-width="3.87" stroke-dasharray="3.87 3.87" stroke-linejoin="round"/>
<g class="rl"><text x="1426.4" y="943.0" text-anchor="middle">12</text><text x="1426.4" y="980.4" text-anchor="middle">6</text><text x="1426.4" y="1020.3" text-anchor="middle">0</text><text x="1426.4" y="1060.0" text-anchor="middle">-6</text><text x="1426.4" y="1099.3" text-anchor="middle">-12</text><text x="1426.4" y="1139.4" text-anchor="middle">-18</text><text x="1426.4" y="1178.0" text-anchor="middle">-24</text></g>
<text class="tt" x="1409.2" y="805.9" text-anchor="middle">axis normalized vertical polar diagrams</text>
<line x1="1272.1" y1="826.5" x2="1517.9" y2="826.5" stroke="#000080" stroke-width="3.87" stroke-dasharray="19.35 11.61"/><text class="lt" x="1580.0" y="832.9" text-anchor="end">9000</text><line x1="1272.1" y1="848.2" x2="1517.9" y2="848.2" stroke="#ff00ff" stroke-width="3.87" stroke-dasharray="38.70 11.61"/><text class="lt" x="1580.0" y="854.6" text-anchor="end">10000</text><line x1="1272.1" y1="868.8" x2="1517.9" y2="868.8" stroke="#ff0000" stroke-width="3.87" stroke-dasharray="7.74 19.35"/><text class="lt" x="1580.0" y="875.2" text-anchor="end">12500</text><line x1="1272.1" y1="889.2" x2="1517.9" y2="889.2" stroke="#008000" stroke-width="3.87" stroke-dasharray="3.87 3.87"/><text class="lt" x="1580.0" y="895.6" text-anchor="end">14000</text>
</svg></body></html>
